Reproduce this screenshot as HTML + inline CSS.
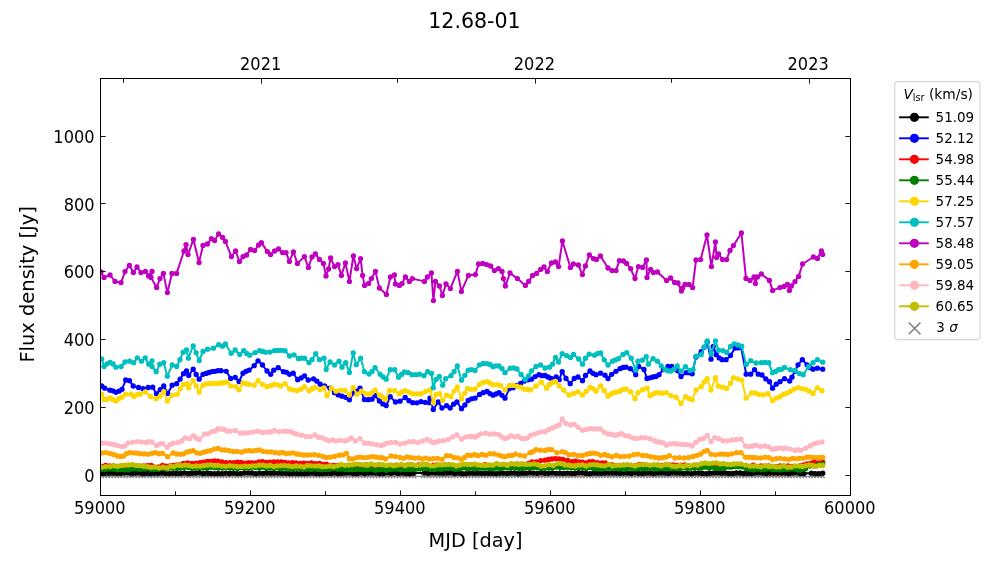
<!DOCTYPE html><html><head><meta charset="utf-8"><style>html,body{margin:0;padding:0;background:#fff}svg{display:block}</style></head><body><svg width="1000" height="562" viewBox="0 0 1000 562">
<rect width="1000" height="562" fill="#fff"/>
<defs><clipPath id="ax"><rect x="100.5" y="78.5" width="750.0" height="417.0"/></clipPath></defs>
<g clip-path="url(#ax)">
<path d="M99.7 474.0l4 4m0 -4l-4 4M102.7 474.0l4 4m0 -4l-4 4M105.7 474.0l4 4m0 -4l-4 4M108.7 474.0l4 4m0 -4l-4 4M111.7 474.0l4 4m0 -4l-4 4M114.7 474.0l4 4m0 -4l-4 4M117.7 474.0l4 4m0 -4l-4 4M120.7 474.0l4 4m0 -4l-4 4M123.7 474.0l4 4m0 -4l-4 4M126.7 474.0l4 4m0 -4l-4 4M129.7 474.0l4 4m0 -4l-4 4M132.7 474.0l4 4m0 -4l-4 4M135.8 474.0l4 4m0 -4l-4 4M138.8 474.0l4 4m0 -4l-4 4M141.8 474.0l4 4m0 -4l-4 4M144.8 474.0l4 4m0 -4l-4 4M147.8 474.0l4 4m0 -4l-4 4M150.8 474.0l4 4m0 -4l-4 4M153.8 474.0l4 4m0 -4l-4 4M156.8 474.0l4 4m0 -4l-4 4M159.8 474.0l4 4m0 -4l-4 4M162.8 474.0l4 4m0 -4l-4 4M165.8 474.0l4 4m0 -4l-4 4M168.8 474.0l4 4m0 -4l-4 4M171.8 474.0l4 4m0 -4l-4 4M174.8 474.0l4 4m0 -4l-4 4M177.8 474.0l4 4m0 -4l-4 4M180.8 474.0l4 4m0 -4l-4 4M183.8 474.0l4 4m0 -4l-4 4M186.8 474.0l4 4m0 -4l-4 4M189.8 474.0l4 4m0 -4l-4 4M192.8 474.0l4 4m0 -4l-4 4M195.8 474.0l4 4m0 -4l-4 4M198.8 474.0l4 4m0 -4l-4 4M201.8 474.0l4 4m0 -4l-4 4M204.8 474.0l4 4m0 -4l-4 4M207.8 474.0l4 4m0 -4l-4 4M210.9 474.0l4 4m0 -4l-4 4M213.9 474.0l4 4m0 -4l-4 4M216.9 474.0l4 4m0 -4l-4 4M219.9 474.0l4 4m0 -4l-4 4M222.9 474.0l4 4m0 -4l-4 4M225.9 474.0l4 4m0 -4l-4 4M228.9 474.0l4 4m0 -4l-4 4M231.9 474.0l4 4m0 -4l-4 4M234.9 474.0l4 4m0 -4l-4 4M237.9 474.0l4 4m0 -4l-4 4M240.9 474.0l4 4m0 -4l-4 4M243.9 474.0l4 4m0 -4l-4 4M246.9 474.0l4 4m0 -4l-4 4M249.9 474.0l4 4m0 -4l-4 4M252.9 474.0l4 4m0 -4l-4 4M255.9 474.0l4 4m0 -4l-4 4M258.9 474.0l4 4m0 -4l-4 4M261.9 474.0l4 4m0 -4l-4 4M264.9 474.0l4 4m0 -4l-4 4M267.9 474.0l4 4m0 -4l-4 4M270.9 474.0l4 4m0 -4l-4 4M273.9 474.0l4 4m0 -4l-4 4M276.9 474.0l4 4m0 -4l-4 4M279.9 474.0l4 4m0 -4l-4 4M283.0 474.0l4 4m0 -4l-4 4M286.0 474.0l4 4m0 -4l-4 4M289.0 474.0l4 4m0 -4l-4 4M292.0 474.0l4 4m0 -4l-4 4M295.0 474.0l4 4m0 -4l-4 4M298.0 474.0l4 4m0 -4l-4 4M301.0 474.0l4 4m0 -4l-4 4M304.0 474.0l4 4m0 -4l-4 4M307.0 474.0l4 4m0 -4l-4 4M310.0 474.0l4 4m0 -4l-4 4M313.0 474.0l4 4m0 -4l-4 4M316.0 474.0l4 4m0 -4l-4 4M319.0 474.0l4 4m0 -4l-4 4M322.0 474.0l4 4m0 -4l-4 4M325.0 474.0l4 4m0 -4l-4 4M328.0 474.0l4 4m0 -4l-4 4M331.0 474.0l4 4m0 -4l-4 4M334.0 474.0l4 4m0 -4l-4 4M337.0 474.0l4 4m0 -4l-4 4M340.0 474.0l4 4m0 -4l-4 4M343.0 474.0l4 4m0 -4l-4 4M346.0 474.0l4 4m0 -4l-4 4M349.0 474.0l4 4m0 -4l-4 4M352.1 474.0l4 4m0 -4l-4 4M355.1 474.0l4 4m0 -4l-4 4M358.1 474.0l4 4m0 -4l-4 4M361.1 474.0l4 4m0 -4l-4 4M364.1 474.0l4 4m0 -4l-4 4M367.1 474.0l4 4m0 -4l-4 4M370.1 474.0l4 4m0 -4l-4 4M373.1 474.0l4 4m0 -4l-4 4M376.1 474.0l4 4m0 -4l-4 4M379.1 474.0l4 4m0 -4l-4 4M382.1 474.0l4 4m0 -4l-4 4M385.1 474.0l4 4m0 -4l-4 4M388.1 474.0l4 4m0 -4l-4 4M391.1 474.0l4 4m0 -4l-4 4M394.1 474.0l4 4m0 -4l-4 4M397.1 474.0l4 4m0 -4l-4 4M400.1 474.0l4 4m0 -4l-4 4M403.1 474.0l4 4m0 -4l-4 4M406.1 474.0l4 4m0 -4l-4 4M409.1 474.0l4 4m0 -4l-4 4M412.1 474.0l4 4m0 -4l-4 4M421.1 474.0l4 4m0 -4l-4 4M424.1 474.0l4 4m0 -4l-4 4M427.2 474.0l4 4m0 -4l-4 4M430.2 474.0l4 4m0 -4l-4 4M433.2 474.0l4 4m0 -4l-4 4M436.2 474.0l4 4m0 -4l-4 4M439.2 474.0l4 4m0 -4l-4 4M442.2 474.0l4 4m0 -4l-4 4M445.2 474.0l4 4m0 -4l-4 4M448.2 474.0l4 4m0 -4l-4 4M451.2 474.0l4 4m0 -4l-4 4M454.2 474.0l4 4m0 -4l-4 4M457.2 474.0l4 4m0 -4l-4 4M460.2 474.0l4 4m0 -4l-4 4M463.2 474.0l4 4m0 -4l-4 4M466.2 474.0l4 4m0 -4l-4 4M469.2 474.0l4 4m0 -4l-4 4M472.2 474.0l4 4m0 -4l-4 4M475.2 474.0l4 4m0 -4l-4 4M478.2 474.0l4 4m0 -4l-4 4M481.2 474.0l4 4m0 -4l-4 4M484.2 474.0l4 4m0 -4l-4 4M487.2 474.0l4 4m0 -4l-4 4M490.2 474.0l4 4m0 -4l-4 4M493.2 474.0l4 4m0 -4l-4 4M496.2 474.0l4 4m0 -4l-4 4M499.3 474.0l4 4m0 -4l-4 4M502.3 474.0l4 4m0 -4l-4 4M505.3 474.0l4 4m0 -4l-4 4M508.3 474.0l4 4m0 -4l-4 4M511.3 474.0l4 4m0 -4l-4 4M514.3 474.0l4 4m0 -4l-4 4M517.3 474.0l4 4m0 -4l-4 4M520.3 474.0l4 4m0 -4l-4 4M523.3 474.0l4 4m0 -4l-4 4M526.3 474.0l4 4m0 -4l-4 4M529.3 474.0l4 4m0 -4l-4 4M532.3 474.0l4 4m0 -4l-4 4M535.3 474.0l4 4m0 -4l-4 4M538.3 474.0l4 4m0 -4l-4 4M541.3 474.0l4 4m0 -4l-4 4M544.3 474.0l4 4m0 -4l-4 4M547.3 474.0l4 4m0 -4l-4 4M550.3 474.0l4 4m0 -4l-4 4M553.3 474.0l4 4m0 -4l-4 4M556.3 474.0l4 4m0 -4l-4 4M559.3 474.0l4 4m0 -4l-4 4M562.3 474.0l4 4m0 -4l-4 4M565.3 474.0l4 4m0 -4l-4 4M568.4 474.0l4 4m0 -4l-4 4M571.4 474.0l4 4m0 -4l-4 4M574.4 474.0l4 4m0 -4l-4 4M577.4 474.0l4 4m0 -4l-4 4M580.4 474.0l4 4m0 -4l-4 4M583.4 474.0l4 4m0 -4l-4 4M586.4 474.0l4 4m0 -4l-4 4M589.4 474.0l4 4m0 -4l-4 4M592.4 474.0l4 4m0 -4l-4 4M595.4 474.0l4 4m0 -4l-4 4M598.4 474.0l4 4m0 -4l-4 4M601.4 474.0l4 4m0 -4l-4 4M604.4 474.0l4 4m0 -4l-4 4M607.4 474.0l4 4m0 -4l-4 4M610.4 474.0l4 4m0 -4l-4 4M613.4 474.0l4 4m0 -4l-4 4M616.4 474.0l4 4m0 -4l-4 4M619.4 474.0l4 4m0 -4l-4 4M622.4 474.0l4 4m0 -4l-4 4M625.4 474.0l4 4m0 -4l-4 4M628.4 474.0l4 4m0 -4l-4 4M631.4 474.0l4 4m0 -4l-4 4M634.4 474.0l4 4m0 -4l-4 4M637.4 474.0l4 4m0 -4l-4 4M640.5 474.0l4 4m0 -4l-4 4M643.5 474.0l4 4m0 -4l-4 4M646.5 474.0l4 4m0 -4l-4 4M649.5 474.0l4 4m0 -4l-4 4M652.5 474.0l4 4m0 -4l-4 4M655.5 474.0l4 4m0 -4l-4 4M658.5 474.0l4 4m0 -4l-4 4M661.5 474.0l4 4m0 -4l-4 4M664.5 474.0l4 4m0 -4l-4 4M667.5 474.0l4 4m0 -4l-4 4M670.5 474.0l4 4m0 -4l-4 4M673.5 474.0l4 4m0 -4l-4 4M676.5 474.0l4 4m0 -4l-4 4M679.5 474.0l4 4m0 -4l-4 4M682.5 474.0l4 4m0 -4l-4 4M685.5 474.0l4 4m0 -4l-4 4M688.5 474.0l4 4m0 -4l-4 4M691.5 474.0l4 4m0 -4l-4 4M694.5 474.0l4 4m0 -4l-4 4M697.5 474.0l4 4m0 -4l-4 4M700.5 474.0l4 4m0 -4l-4 4M703.5 474.0l4 4m0 -4l-4 4M706.5 474.0l4 4m0 -4l-4 4M709.5 474.0l4 4m0 -4l-4 4M712.6 474.0l4 4m0 -4l-4 4M715.6 474.0l4 4m0 -4l-4 4M718.6 474.0l4 4m0 -4l-4 4M721.6 474.0l4 4m0 -4l-4 4M724.6 474.0l4 4m0 -4l-4 4M727.6 474.0l4 4m0 -4l-4 4M730.6 474.0l4 4m0 -4l-4 4M733.6 474.0l4 4m0 -4l-4 4M736.6 474.0l4 4m0 -4l-4 4M739.6 474.0l4 4m0 -4l-4 4M742.6 474.0l4 4m0 -4l-4 4M745.6 474.0l4 4m0 -4l-4 4M748.6 474.0l4 4m0 -4l-4 4M751.6 474.0l4 4m0 -4l-4 4M754.6 474.0l4 4m0 -4l-4 4M757.6 474.0l4 4m0 -4l-4 4M760.6 474.0l4 4m0 -4l-4 4M763.6 474.0l4 4m0 -4l-4 4M766.6 474.0l4 4m0 -4l-4 4M769.6 474.0l4 4m0 -4l-4 4M772.6 474.0l4 4m0 -4l-4 4M775.6 474.0l4 4m0 -4l-4 4M778.6 474.0l4 4m0 -4l-4 4M781.6 474.0l4 4m0 -4l-4 4M784.6 474.0l4 4m0 -4l-4 4M787.7 474.0l4 4m0 -4l-4 4M790.7 474.0l4 4m0 -4l-4 4M793.7 474.0l4 4m0 -4l-4 4M796.7 474.0l4 4m0 -4l-4 4M799.7 474.0l4 4m0 -4l-4 4M802.7 474.0l4 4m0 -4l-4 4M808.7 474.0l4 4m0 -4l-4 4M811.7 474.0l4 4m0 -4l-4 4M814.7 474.0l4 4m0 -4l-4 4M817.7 474.0l4 4m0 -4l-4 4M820.7 474.0l4 4m0 -4l-4 4" stroke="#808080" stroke-width="1.1" fill="none"/>
<path d="M101 476.3H823" stroke="#8a8a8a" stroke-width="1.3"/>
<polyline points="101.7,473.2 105.5,472.9 109.2,473.2 113,473.1 116.7,473.3 120.5,473.3 124.2,472.8 128,472.7 131.7,473.5 135.5,473 139.3,472.9 143,473.7 146.8,473.2 150.5,473.5 154.3,473.2 158,473.3 161.8,472.9 165.5,473.3 169.3,473.6 173,473.2 176.8,473.4 180.6,473.4 184.3,472.8 188.1,473.5 191.8,473.3 195.6,473 199.3,472.7 203.1,473.6 206.8,473.2 210.6,473.4 214.4,473.6 218.1,473.4 221.9,473.6 225.6,473.1 229.4,473.5 233.1,473.1 236.9,473.6 240.6,473.6 244.4,472.8 248.2,472.8 251.9,472.9 255.7,473.7 259.4,473.1 263.2,473.3 266.9,473 270.7,473.2 274.4,473.1 278.2,473.1 281.9,473.3 285.7,473.3 289.5,473.6 293.2,473.4 297,473.6 300.7,473.6 304.5,473.7 308.2,473.4 312,472.9 315.7,473.6 319.5,473.7 323.3,473.6 327,473.3 330.8,473.4 334.5,472.9 338.3,473.5 342,473.3 345.8,473 349.5,472.8 353.3,473.6 357.1,473.7 360.8,472.8 364.6,473.5 368.3,473.1 372.1,472.9 375.8,473 379.6,473.5 383.3,473.6 387.1,472.7 390.9,473.3 394.6,472.7 398.4,473.4 402.1,473 405.9,473.6 409.6,473.7 413.4,473.2 424.6,472.8 428.4,473.3 432.2,472.7 435.9,472.9 439.7,473.1 443.4,473.3 447.2,472.9 450.9,472.7 454.7,473.6 458.4,473 462.2,473.7 466,473.6 469.7,473.1 473.5,473.2 477.2,473.2 481,473.3 484.7,473.3 488.5,473.3 492.2,473.3 496,473.6 499.8,473.2 503.5,473.1 507.3,473.4 511,472.9 514.8,473 518.5,473.7 522.3,473.2 526,473.2 529.8,472.7 533.5,473.1 537.3,473.3 541.1,472.7 544.8,473.3 548.6,473.3 552.3,472.8 556.1,473.3 559.8,473.2 563.6,473.4 567.3,473.1 571.1,473.4 574.9,473.4 578.6,472.7 582.4,472.8 586.1,473.4 589.9,473.7 593.6,473 597.4,473.2 601.1,473.3 604.9,473 608.7,473.1 612.4,473 616.2,473.1 619.9,473.3 623.7,473 627.4,473.1 631.2,473.5 634.9,472.7 638.7,473.3 642.5,473.4 646.2,473 650,472.9 653.7,473.5 657.5,472.9 661.2,472.9 665,473.1 668.7,473.4 672.5,472.8 676.2,473 680,473 683.8,473.5 687.5,473.1 691.3,473.6 695,472.9 698.8,473 702.5,473.4 706.3,473.6 710,473.2 713.8,472.9 717.6,472.8 721.3,473.2 725.1,472.9 728.8,473.5 732.6,473.5 736.3,472.9 740.1,473 743.8,473.5 747.6,473.3 751.4,473.5 755.1,473 758.9,472.8 762.6,473 766.4,473.5 770.1,473 773.9,473 777.6,473.1 781.4,473.1 785.1,473.1 788.9,473.6 792.7,472.9 796.4,472.7 800.2,473.6 803.9,473.6 811.4,473.1 815.2,473.7 818.9,473.6 822.7,473.2" fill="none" stroke="#000000" stroke-width="2" stroke-linejoin="round" stroke-linecap="square"/>
<g fill="#000000"><circle cx="101.7" cy="473.2" r="2.65"/><circle cx="105.5" cy="472.9" r="2.65"/><circle cx="109.2" cy="473.2" r="2.65"/><circle cx="113" cy="473.1" r="2.65"/><circle cx="116.7" cy="473.3" r="2.65"/><circle cx="120.5" cy="473.3" r="2.65"/><circle cx="124.2" cy="472.8" r="2.65"/><circle cx="128" cy="472.7" r="2.65"/><circle cx="131.7" cy="473.5" r="2.65"/><circle cx="135.5" cy="473" r="2.65"/><circle cx="139.3" cy="472.9" r="2.65"/><circle cx="143" cy="473.7" r="2.65"/><circle cx="146.8" cy="473.2" r="2.65"/><circle cx="150.5" cy="473.5" r="2.65"/><circle cx="154.3" cy="473.2" r="2.65"/><circle cx="158" cy="473.3" r="2.65"/><circle cx="161.8" cy="472.9" r="2.65"/><circle cx="165.5" cy="473.3" r="2.65"/><circle cx="169.3" cy="473.6" r="2.65"/><circle cx="173" cy="473.2" r="2.65"/><circle cx="176.8" cy="473.4" r="2.65"/><circle cx="180.6" cy="473.4" r="2.65"/><circle cx="184.3" cy="472.8" r="2.65"/><circle cx="188.1" cy="473.5" r="2.65"/><circle cx="191.8" cy="473.3" r="2.65"/><circle cx="195.6" cy="473" r="2.65"/><circle cx="199.3" cy="472.7" r="2.65"/><circle cx="203.1" cy="473.6" r="2.65"/><circle cx="206.8" cy="473.2" r="2.65"/><circle cx="210.6" cy="473.4" r="2.65"/><circle cx="214.4" cy="473.6" r="2.65"/><circle cx="218.1" cy="473.4" r="2.65"/><circle cx="221.9" cy="473.6" r="2.65"/><circle cx="225.6" cy="473.1" r="2.65"/><circle cx="229.4" cy="473.5" r="2.65"/><circle cx="233.1" cy="473.1" r="2.65"/><circle cx="236.9" cy="473.6" r="2.65"/><circle cx="240.6" cy="473.6" r="2.65"/><circle cx="244.4" cy="472.8" r="2.65"/><circle cx="248.2" cy="472.8" r="2.65"/><circle cx="251.9" cy="472.9" r="2.65"/><circle cx="255.7" cy="473.7" r="2.65"/><circle cx="259.4" cy="473.1" r="2.65"/><circle cx="263.2" cy="473.3" r="2.65"/><circle cx="266.9" cy="473" r="2.65"/><circle cx="270.7" cy="473.2" r="2.65"/><circle cx="274.4" cy="473.1" r="2.65"/><circle cx="278.2" cy="473.1" r="2.65"/><circle cx="281.9" cy="473.3" r="2.65"/><circle cx="285.7" cy="473.3" r="2.65"/><circle cx="289.5" cy="473.6" r="2.65"/><circle cx="293.2" cy="473.4" r="2.65"/><circle cx="297" cy="473.6" r="2.65"/><circle cx="300.7" cy="473.6" r="2.65"/><circle cx="304.5" cy="473.7" r="2.65"/><circle cx="308.2" cy="473.4" r="2.65"/><circle cx="312" cy="472.9" r="2.65"/><circle cx="315.7" cy="473.6" r="2.65"/><circle cx="319.5" cy="473.7" r="2.65"/><circle cx="323.3" cy="473.6" r="2.65"/><circle cx="327" cy="473.3" r="2.65"/><circle cx="330.8" cy="473.4" r="2.65"/><circle cx="334.5" cy="472.9" r="2.65"/><circle cx="338.3" cy="473.5" r="2.65"/><circle cx="342" cy="473.3" r="2.65"/><circle cx="345.8" cy="473" r="2.65"/><circle cx="349.5" cy="472.8" r="2.65"/><circle cx="353.3" cy="473.6" r="2.65"/><circle cx="357.1" cy="473.7" r="2.65"/><circle cx="360.8" cy="472.8" r="2.65"/><circle cx="364.6" cy="473.5" r="2.65"/><circle cx="368.3" cy="473.1" r="2.65"/><circle cx="372.1" cy="472.9" r="2.65"/><circle cx="375.8" cy="473" r="2.65"/><circle cx="379.6" cy="473.5" r="2.65"/><circle cx="383.3" cy="473.6" r="2.65"/><circle cx="387.1" cy="472.7" r="2.65"/><circle cx="390.9" cy="473.3" r="2.65"/><circle cx="394.6" cy="472.7" r="2.65"/><circle cx="398.4" cy="473.4" r="2.65"/><circle cx="402.1" cy="473" r="2.65"/><circle cx="405.9" cy="473.6" r="2.65"/><circle cx="409.6" cy="473.7" r="2.65"/><circle cx="413.4" cy="473.2" r="2.65"/><circle cx="424.6" cy="472.8" r="2.65"/><circle cx="428.4" cy="473.3" r="2.65"/><circle cx="432.2" cy="472.7" r="2.65"/><circle cx="435.9" cy="472.9" r="2.65"/><circle cx="439.7" cy="473.1" r="2.65"/><circle cx="443.4" cy="473.3" r="2.65"/><circle cx="447.2" cy="472.9" r="2.65"/><circle cx="450.9" cy="472.7" r="2.65"/><circle cx="454.7" cy="473.6" r="2.65"/><circle cx="458.4" cy="473" r="2.65"/><circle cx="462.2" cy="473.7" r="2.65"/><circle cx="466" cy="473.6" r="2.65"/><circle cx="469.7" cy="473.1" r="2.65"/><circle cx="473.5" cy="473.2" r="2.65"/><circle cx="477.2" cy="473.2" r="2.65"/><circle cx="481" cy="473.3" r="2.65"/><circle cx="484.7" cy="473.3" r="2.65"/><circle cx="488.5" cy="473.3" r="2.65"/><circle cx="492.2" cy="473.3" r="2.65"/><circle cx="496" cy="473.6" r="2.65"/><circle cx="499.8" cy="473.2" r="2.65"/><circle cx="503.5" cy="473.1" r="2.65"/><circle cx="507.3" cy="473.4" r="2.65"/><circle cx="511" cy="472.9" r="2.65"/><circle cx="514.8" cy="473" r="2.65"/><circle cx="518.5" cy="473.7" r="2.65"/><circle cx="522.3" cy="473.2" r="2.65"/><circle cx="526" cy="473.2" r="2.65"/><circle cx="529.8" cy="472.7" r="2.65"/><circle cx="533.5" cy="473.1" r="2.65"/><circle cx="537.3" cy="473.3" r="2.65"/><circle cx="541.1" cy="472.7" r="2.65"/><circle cx="544.8" cy="473.3" r="2.65"/><circle cx="548.6" cy="473.3" r="2.65"/><circle cx="552.3" cy="472.8" r="2.65"/><circle cx="556.1" cy="473.3" r="2.65"/><circle cx="559.8" cy="473.2" r="2.65"/><circle cx="563.6" cy="473.4" r="2.65"/><circle cx="567.3" cy="473.1" r="2.65"/><circle cx="571.1" cy="473.4" r="2.65"/><circle cx="574.9" cy="473.4" r="2.65"/><circle cx="578.6" cy="472.7" r="2.65"/><circle cx="582.4" cy="472.8" r="2.65"/><circle cx="586.1" cy="473.4" r="2.65"/><circle cx="589.9" cy="473.7" r="2.65"/><circle cx="593.6" cy="473" r="2.65"/><circle cx="597.4" cy="473.2" r="2.65"/><circle cx="601.1" cy="473.3" r="2.65"/><circle cx="604.9" cy="473" r="2.65"/><circle cx="608.7" cy="473.1" r="2.65"/><circle cx="612.4" cy="473" r="2.65"/><circle cx="616.2" cy="473.1" r="2.65"/><circle cx="619.9" cy="473.3" r="2.65"/><circle cx="623.7" cy="473" r="2.65"/><circle cx="627.4" cy="473.1" r="2.65"/><circle cx="631.2" cy="473.5" r="2.65"/><circle cx="634.9" cy="472.7" r="2.65"/><circle cx="638.7" cy="473.3" r="2.65"/><circle cx="642.5" cy="473.4" r="2.65"/><circle cx="646.2" cy="473" r="2.65"/><circle cx="650" cy="472.9" r="2.65"/><circle cx="653.7" cy="473.5" r="2.65"/><circle cx="657.5" cy="472.9" r="2.65"/><circle cx="661.2" cy="472.9" r="2.65"/><circle cx="665" cy="473.1" r="2.65"/><circle cx="668.7" cy="473.4" r="2.65"/><circle cx="672.5" cy="472.8" r="2.65"/><circle cx="676.2" cy="473" r="2.65"/><circle cx="680" cy="473" r="2.65"/><circle cx="683.8" cy="473.5" r="2.65"/><circle cx="687.5" cy="473.1" r="2.65"/><circle cx="691.3" cy="473.6" r="2.65"/><circle cx="695" cy="472.9" r="2.65"/><circle cx="698.8" cy="473" r="2.65"/><circle cx="702.5" cy="473.4" r="2.65"/><circle cx="706.3" cy="473.6" r="2.65"/><circle cx="710" cy="473.2" r="2.65"/><circle cx="713.8" cy="472.9" r="2.65"/><circle cx="717.6" cy="472.8" r="2.65"/><circle cx="721.3" cy="473.2" r="2.65"/><circle cx="725.1" cy="472.9" r="2.65"/><circle cx="728.8" cy="473.5" r="2.65"/><circle cx="732.6" cy="473.5" r="2.65"/><circle cx="736.3" cy="472.9" r="2.65"/><circle cx="740.1" cy="473" r="2.65"/><circle cx="743.8" cy="473.5" r="2.65"/><circle cx="747.6" cy="473.3" r="2.65"/><circle cx="751.4" cy="473.5" r="2.65"/><circle cx="755.1" cy="473" r="2.65"/><circle cx="758.9" cy="472.8" r="2.65"/><circle cx="762.6" cy="473" r="2.65"/><circle cx="766.4" cy="473.5" r="2.65"/><circle cx="770.1" cy="473" r="2.65"/><circle cx="773.9" cy="473" r="2.65"/><circle cx="777.6" cy="473.1" r="2.65"/><circle cx="781.4" cy="473.1" r="2.65"/><circle cx="785.1" cy="473.1" r="2.65"/><circle cx="788.9" cy="473.6" r="2.65"/><circle cx="792.7" cy="472.9" r="2.65"/><circle cx="796.4" cy="472.7" r="2.65"/><circle cx="800.2" cy="473.6" r="2.65"/><circle cx="803.9" cy="473.6" r="2.65"/><circle cx="811.4" cy="473.1" r="2.65"/><circle cx="815.2" cy="473.7" r="2.65"/><circle cx="818.9" cy="473.6" r="2.65"/><circle cx="822.7" cy="473.2" r="2.65"/></g>
<polyline points="101.7,386 104.7,388.2 110,390.2 113,390.8 116,392.3 119,391.2 122,389.3 125.7,380 129.5,380.7 133.2,386 138.5,387.5 143,388.7 148.2,387.5 152.7,387.2 156.5,393.8 160.2,389.7 163.7,386 167.7,393.5 172.2,385.2 176.7,383.7 180.1,379.2 183.5,373.7 186.5,371 188.7,375.5 193.2,369.2 196.2,374.5 199.2,379.2 203,374.3 206,373.4 209,372.5 212,371.6 215,371.3 218,370.7 221,370.7 226.2,371.3 230.7,378.5 235.2,377.3 239,381.5 243,373.2 246,371.3 249,370.2 254.2,365.7 258,360.8 262.5,365 267,371 270.7,374.3 273.7,370.2 278.2,367.7 283.5,371.7 286.5,372.3 289.5,374.3 293.2,373.2 297.7,379.7 301.1,377.9 304.5,375.8 308.2,380 313.5,378.8 316.9,381.2 320.2,384.2 324.7,386 330,388.2 334.5,392.7 338.2,394.9 342,396.2 345.7,397.3 349.4,399.8 354,392.7 357,391.1 360,388.2 364.4,399.5 368.2,399.7 372,399.2 375,395.7 379.4,401 382.8,403.9 386.2,405.5 390.2,396.7 395.5,402 400,401.2 405.2,397.5 408.9,400.7 412.7,402.7 416.9,402.8 421,401.7 425.1,402.3 429.2,402.7 430,398.2 433.3,409.5 438.2,402 442,408 446.5,405.7 450.2,408 453.6,404.2 457,402 461.5,408.7 464.9,405 468.2,400.5 471.6,398.8 475,398.2 479.5,394.5 483.2,392.7 487,391.5 490,393.6 493,395.2 496,394 499,392.7 502,395.3 505,398.2 509.5,388.5 513.2,387.7 517,385.5 520.7,383.4 524.4,381 528,379.8 531.5,379.2 535.2,376.6 539,374.7 542,375.7 545,375.5 548,377 551,378.5 556.2,377 559.2,379.7 562.2,371.7 566,378.5 570.2,383.7 574.2,378.5 578,377 582.5,380.7 585.5,375.5 590,371 593,373.3 596,374.7 600.5,373.2 605,375.2 608,378.5 611.7,374.3 615.9,371.3 620,368.7 623,367.5 626,367.2 630.4,368.7 635.7,374.7 638.7,366.5 644,369.5 647,378.5 650,377.8 653,377 656,376.4 659,374.7 663.4,369.5 668,366.5 671.7,366.5 677.2,370.5 681,376.5 686.2,372.7 689.2,372.7 692.2,373.8 696,357 701.2,351.7 704.2,347.3 707.2,342 711,359.2 713.2,346.5 716.2,354.7 719.2,357.9 722.2,359.7 726,359.7 730.5,355.5 735,348 738,347.9 741,346.8 746.2,374.2 750.7,374.2 754.5,369.7 758.2,374.2 762,375 765.8,378.9 769.5,381.7 772.5,388.2 776.2,384.2 780,381.7 784.5,378.7 789.7,381 792,377.2 795,371.2 798,364.8 802.4,359.7 807,364.8 810,367.6 813,369.2 817.4,368.2 822.7,369.2" fill="none" stroke="#0000ff" stroke-width="2" stroke-linejoin="round" stroke-linecap="square"/>
<g fill="#0000ff"><circle cx="101.7" cy="386" r="2.65"/><circle cx="104.7" cy="388.2" r="2.65"/><circle cx="110" cy="390.2" r="2.65"/><circle cx="113" cy="390.8" r="2.65"/><circle cx="116" cy="392.3" r="2.65"/><circle cx="119" cy="391.2" r="2.65"/><circle cx="122" cy="389.3" r="2.65"/><circle cx="125.7" cy="380" r="2.65"/><circle cx="129.5" cy="380.7" r="2.65"/><circle cx="133.2" cy="386" r="2.65"/><circle cx="138.5" cy="387.5" r="2.65"/><circle cx="143" cy="388.7" r="2.65"/><circle cx="148.2" cy="387.5" r="2.65"/><circle cx="152.7" cy="387.2" r="2.65"/><circle cx="156.5" cy="393.8" r="2.65"/><circle cx="160.2" cy="389.7" r="2.65"/><circle cx="163.7" cy="386" r="2.65"/><circle cx="167.7" cy="393.5" r="2.65"/><circle cx="172.2" cy="385.2" r="2.65"/><circle cx="176.7" cy="383.7" r="2.65"/><circle cx="180.1" cy="379.2" r="2.65"/><circle cx="183.5" cy="373.7" r="2.65"/><circle cx="186.5" cy="371" r="2.65"/><circle cx="188.7" cy="375.5" r="2.65"/><circle cx="193.2" cy="369.2" r="2.65"/><circle cx="196.2" cy="374.5" r="2.65"/><circle cx="199.2" cy="379.2" r="2.65"/><circle cx="203" cy="374.3" r="2.65"/><circle cx="206" cy="373.4" r="2.65"/><circle cx="209" cy="372.5" r="2.65"/><circle cx="212" cy="371.6" r="2.65"/><circle cx="215" cy="371.3" r="2.65"/><circle cx="218" cy="370.7" r="2.65"/><circle cx="221" cy="370.7" r="2.65"/><circle cx="226.2" cy="371.3" r="2.65"/><circle cx="230.7" cy="378.5" r="2.65"/><circle cx="235.2" cy="377.3" r="2.65"/><circle cx="239" cy="381.5" r="2.65"/><circle cx="243" cy="373.2" r="2.65"/><circle cx="246" cy="371.3" r="2.65"/><circle cx="249" cy="370.2" r="2.65"/><circle cx="254.2" cy="365.7" r="2.65"/><circle cx="258" cy="360.8" r="2.65"/><circle cx="262.5" cy="365" r="2.65"/><circle cx="267" cy="371" r="2.65"/><circle cx="270.7" cy="374.3" r="2.65"/><circle cx="273.7" cy="370.2" r="2.65"/><circle cx="278.2" cy="367.7" r="2.65"/><circle cx="283.5" cy="371.7" r="2.65"/><circle cx="286.5" cy="372.3" r="2.65"/><circle cx="289.5" cy="374.3" r="2.65"/><circle cx="293.2" cy="373.2" r="2.65"/><circle cx="297.7" cy="379.7" r="2.65"/><circle cx="301.1" cy="377.9" r="2.65"/><circle cx="304.5" cy="375.8" r="2.65"/><circle cx="308.2" cy="380" r="2.65"/><circle cx="313.5" cy="378.8" r="2.65"/><circle cx="316.9" cy="381.2" r="2.65"/><circle cx="320.2" cy="384.2" r="2.65"/><circle cx="324.7" cy="386" r="2.65"/><circle cx="330" cy="388.2" r="2.65"/><circle cx="334.5" cy="392.7" r="2.65"/><circle cx="338.2" cy="394.9" r="2.65"/><circle cx="342" cy="396.2" r="2.65"/><circle cx="345.7" cy="397.3" r="2.65"/><circle cx="349.4" cy="399.8" r="2.65"/><circle cx="354" cy="392.7" r="2.65"/><circle cx="357" cy="391.1" r="2.65"/><circle cx="360" cy="388.2" r="2.65"/><circle cx="364.4" cy="399.5" r="2.65"/><circle cx="368.2" cy="399.7" r="2.65"/><circle cx="372" cy="399.2" r="2.65"/><circle cx="375" cy="395.7" r="2.65"/><circle cx="379.4" cy="401" r="2.65"/><circle cx="382.8" cy="403.9" r="2.65"/><circle cx="386.2" cy="405.5" r="2.65"/><circle cx="390.2" cy="396.7" r="2.65"/><circle cx="395.5" cy="402" r="2.65"/><circle cx="400" cy="401.2" r="2.65"/><circle cx="405.2" cy="397.5" r="2.65"/><circle cx="408.9" cy="400.7" r="2.65"/><circle cx="412.7" cy="402.7" r="2.65"/><circle cx="416.9" cy="402.8" r="2.65"/><circle cx="421" cy="401.7" r="2.65"/><circle cx="425.1" cy="402.3" r="2.65"/><circle cx="429.2" cy="402.7" r="2.65"/><circle cx="430" cy="398.2" r="2.65"/><circle cx="433.3" cy="409.5" r="2.65"/><circle cx="438.2" cy="402" r="2.65"/><circle cx="442" cy="408" r="2.65"/><circle cx="446.5" cy="405.7" r="2.65"/><circle cx="450.2" cy="408" r="2.65"/><circle cx="453.6" cy="404.2" r="2.65"/><circle cx="457" cy="402" r="2.65"/><circle cx="461.5" cy="408.7" r="2.65"/><circle cx="464.9" cy="405" r="2.65"/><circle cx="468.2" cy="400.5" r="2.65"/><circle cx="471.6" cy="398.8" r="2.65"/><circle cx="475" cy="398.2" r="2.65"/><circle cx="479.5" cy="394.5" r="2.65"/><circle cx="483.2" cy="392.7" r="2.65"/><circle cx="487" cy="391.5" r="2.65"/><circle cx="490" cy="393.6" r="2.65"/><circle cx="493" cy="395.2" r="2.65"/><circle cx="496" cy="394" r="2.65"/><circle cx="499" cy="392.7" r="2.65"/><circle cx="502" cy="395.3" r="2.65"/><circle cx="505" cy="398.2" r="2.65"/><circle cx="509.5" cy="388.5" r="2.65"/><circle cx="513.2" cy="387.7" r="2.65"/><circle cx="517" cy="385.5" r="2.65"/><circle cx="520.7" cy="383.4" r="2.65"/><circle cx="524.4" cy="381" r="2.65"/><circle cx="528" cy="379.8" r="2.65"/><circle cx="531.5" cy="379.2" r="2.65"/><circle cx="535.2" cy="376.6" r="2.65"/><circle cx="539" cy="374.7" r="2.65"/><circle cx="542" cy="375.7" r="2.65"/><circle cx="545" cy="375.5" r="2.65"/><circle cx="548" cy="377" r="2.65"/><circle cx="551" cy="378.5" r="2.65"/><circle cx="556.2" cy="377" r="2.65"/><circle cx="559.2" cy="379.7" r="2.65"/><circle cx="562.2" cy="371.7" r="2.65"/><circle cx="566" cy="378.5" r="2.65"/><circle cx="570.2" cy="383.7" r="2.65"/><circle cx="574.2" cy="378.5" r="2.65"/><circle cx="578" cy="377" r="2.65"/><circle cx="582.5" cy="380.7" r="2.65"/><circle cx="585.5" cy="375.5" r="2.65"/><circle cx="590" cy="371" r="2.65"/><circle cx="593" cy="373.3" r="2.65"/><circle cx="596" cy="374.7" r="2.65"/><circle cx="600.5" cy="373.2" r="2.65"/><circle cx="605" cy="375.2" r="2.65"/><circle cx="608" cy="378.5" r="2.65"/><circle cx="611.7" cy="374.3" r="2.65"/><circle cx="615.9" cy="371.3" r="2.65"/><circle cx="620" cy="368.7" r="2.65"/><circle cx="623" cy="367.5" r="2.65"/><circle cx="626" cy="367.2" r="2.65"/><circle cx="630.4" cy="368.7" r="2.65"/><circle cx="635.7" cy="374.7" r="2.65"/><circle cx="638.7" cy="366.5" r="2.65"/><circle cx="644" cy="369.5" r="2.65"/><circle cx="647" cy="378.5" r="2.65"/><circle cx="650" cy="377.8" r="2.65"/><circle cx="653" cy="377" r="2.65"/><circle cx="656" cy="376.4" r="2.65"/><circle cx="659" cy="374.7" r="2.65"/><circle cx="663.4" cy="369.5" r="2.65"/><circle cx="668" cy="366.5" r="2.65"/><circle cx="671.7" cy="366.5" r="2.65"/><circle cx="677.2" cy="370.5" r="2.65"/><circle cx="681" cy="376.5" r="2.65"/><circle cx="686.2" cy="372.7" r="2.65"/><circle cx="689.2" cy="372.7" r="2.65"/><circle cx="692.2" cy="373.8" r="2.65"/><circle cx="696" cy="357" r="2.65"/><circle cx="701.2" cy="351.7" r="2.65"/><circle cx="704.2" cy="347.3" r="2.65"/><circle cx="707.2" cy="342" r="2.65"/><circle cx="711" cy="359.2" r="2.65"/><circle cx="713.2" cy="346.5" r="2.65"/><circle cx="716.2" cy="354.7" r="2.65"/><circle cx="719.2" cy="357.9" r="2.65"/><circle cx="722.2" cy="359.7" r="2.65"/><circle cx="726" cy="359.7" r="2.65"/><circle cx="730.5" cy="355.5" r="2.65"/><circle cx="735" cy="348" r="2.65"/><circle cx="738" cy="347.9" r="2.65"/><circle cx="741" cy="346.8" r="2.65"/><circle cx="746.2" cy="374.2" r="2.65"/><circle cx="750.7" cy="374.2" r="2.65"/><circle cx="754.5" cy="369.7" r="2.65"/><circle cx="758.2" cy="374.2" r="2.65"/><circle cx="762" cy="375" r="2.65"/><circle cx="765.8" cy="378.9" r="2.65"/><circle cx="769.5" cy="381.7" r="2.65"/><circle cx="772.5" cy="388.2" r="2.65"/><circle cx="776.2" cy="384.2" r="2.65"/><circle cx="780" cy="381.7" r="2.65"/><circle cx="784.5" cy="378.7" r="2.65"/><circle cx="789.7" cy="381" r="2.65"/><circle cx="792" cy="377.2" r="2.65"/><circle cx="795" cy="371.2" r="2.65"/><circle cx="798" cy="364.8" r="2.65"/><circle cx="802.4" cy="359.7" r="2.65"/><circle cx="807" cy="364.8" r="2.65"/><circle cx="810" cy="367.6" r="2.65"/><circle cx="813" cy="369.2" r="2.65"/><circle cx="817.4" cy="368.2" r="2.65"/><circle cx="822.7" cy="369.2" r="2.65"/></g>
<polyline points="101.7,466.3 105.5,465.5 109.4,465.9 113.2,465.9 117,466.4 120.8,466.3 124.7,466.4 128.5,466.9 132.3,465.6 136.2,465.7 140,466.5 143.8,465.8 147.5,465.7 151.2,465.5 155,467.1 158.8,466.8 162.5,465.4 166.2,466.1 170,466 173.3,465.3 176.7,465 180,465 183.5,463.5 187.6,463 191.8,463.4 195.9,463.1 200,462.7 203.6,462.1 207.2,461.5 210.8,461.5 214.4,460.8 218,461.2 222,461.8 226,462.6 230,462.7 233.8,462.6 237.5,462.2 241.2,462.5 245,463.2 248.5,462.7 252,462.8 255.5,462.8 259,461.8 262.5,461.7 266.2,462.3 270,462.1 273.8,461.8 277.5,462 281.2,461.9 285,462.3 288.8,462.9 292.5,462.7 296.2,462.8 300,463.4 303.8,463.2 307.5,463.5 311.5,463 315.5,463.6 319.5,463.5 323,464.5 326.5,464.1 330,465.5 333.7,465.4 337.4,465.4 341.1,466.2 344.7,466.3 348.4,465.4 352.1,466.3 355.8,466.1 359.5,465.2 363.2,465.6 366.8,465 370.5,466.2 374.2,466 377.9,466.4 381.6,466.2 385.3,466 388.9,466.2 392.6,465.9 396.3,465.1 400,465.8 403.7,465.9 407.4,464.9 411.1,465.1 414.8,466.2 418.5,464.9 422.2,465 425.9,464.9 429.6,466.3 433.3,465.1 437,464.8 440.7,466.2 444.4,464.9 448.1,466.2 451.9,465.9 455.6,466.1 459.3,466.3 463,465.6 466.7,466 470.4,464.6 474.1,465.9 477.8,465.4 481.5,465.8 485.2,464.7 488.9,465.8 492.6,466.1 496.3,464.5 500,465.3 503.6,464.9 507.1,465.2 510.7,465.5 514.3,464.4 517.9,464.2 521.4,464.2 525,464.5 528.5,463.5 532,462 536.3,461.9 540.7,460.6 545,460.2 548.5,459.5 552,459 555.5,458.7 559.2,458.8 563,459.5 567.5,460.5 572,461.7 575.5,461.1 579,462 582.5,462.2 586,462.9 589.5,461.7 593,461.7 597.5,462.7 602,462.8 605.3,462.9 608.7,464.6 612,465 615.8,465.5 619.7,465.4 623.5,465.1 627.3,465.1 631.1,465.4 635,465.8 638.8,464.5 642.6,464.4 646.4,465.6 650.3,466 654.1,465.3 657.9,465.2 661.7,465.7 665.6,464.7 669.4,464.9 673.2,464.8 677,465.5 680.9,465.1 684.7,464.9 688.5,465.8 692.3,466.3 696.2,465.1 700,465.5 703.8,465.9 707.6,465.4 711.4,466.2 715.2,465.7 719,465.2 722.9,465.1 726.7,464.8 730.5,465.7 734.3,465.5 738.1,465.1 741.9,465.5 745.7,465.5 749.5,466.3 753.3,465.2 757.1,466.7 761,465.8 764.8,466.1 768.6,465.9 772.4,466.6 776.2,466.6 780,466 784,466.1 788,466 792,466.4 796,466.6 800,466 803.5,464.8 807,464 810.5,463.4 814,462 818.4,462.8 822.7,462" fill="none" stroke="#ff0000" stroke-width="2" stroke-linejoin="round" stroke-linecap="square"/>
<g fill="#ff0000"><circle cx="101.7" cy="466.3" r="2.65"/><circle cx="105.5" cy="465.5" r="2.65"/><circle cx="109.4" cy="465.9" r="2.65"/><circle cx="113.2" cy="465.9" r="2.65"/><circle cx="117" cy="466.4" r="2.65"/><circle cx="120.8" cy="466.3" r="2.65"/><circle cx="124.7" cy="466.4" r="2.65"/><circle cx="128.5" cy="466.9" r="2.65"/><circle cx="132.3" cy="465.6" r="2.65"/><circle cx="136.2" cy="465.7" r="2.65"/><circle cx="140" cy="466.5" r="2.65"/><circle cx="143.8" cy="465.8" r="2.65"/><circle cx="147.5" cy="465.7" r="2.65"/><circle cx="151.2" cy="465.5" r="2.65"/><circle cx="155" cy="467.1" r="2.65"/><circle cx="158.8" cy="466.8" r="2.65"/><circle cx="162.5" cy="465.4" r="2.65"/><circle cx="166.2" cy="466.1" r="2.65"/><circle cx="170" cy="466" r="2.65"/><circle cx="173.3" cy="465.3" r="2.65"/><circle cx="176.7" cy="465" r="2.65"/><circle cx="180" cy="465" r="2.65"/><circle cx="183.5" cy="463.5" r="2.65"/><circle cx="187.6" cy="463" r="2.65"/><circle cx="191.8" cy="463.4" r="2.65"/><circle cx="195.9" cy="463.1" r="2.65"/><circle cx="200" cy="462.7" r="2.65"/><circle cx="203.6" cy="462.1" r="2.65"/><circle cx="207.2" cy="461.5" r="2.65"/><circle cx="210.8" cy="461.5" r="2.65"/><circle cx="214.4" cy="460.8" r="2.65"/><circle cx="218" cy="461.2" r="2.65"/><circle cx="222" cy="461.8" r="2.65"/><circle cx="226" cy="462.6" r="2.65"/><circle cx="230" cy="462.7" r="2.65"/><circle cx="233.8" cy="462.6" r="2.65"/><circle cx="237.5" cy="462.2" r="2.65"/><circle cx="241.2" cy="462.5" r="2.65"/><circle cx="245" cy="463.2" r="2.65"/><circle cx="248.5" cy="462.7" r="2.65"/><circle cx="252" cy="462.8" r="2.65"/><circle cx="255.5" cy="462.8" r="2.65"/><circle cx="259" cy="461.8" r="2.65"/><circle cx="262.5" cy="461.7" r="2.65"/><circle cx="266.2" cy="462.3" r="2.65"/><circle cx="270" cy="462.1" r="2.65"/><circle cx="273.8" cy="461.8" r="2.65"/><circle cx="277.5" cy="462" r="2.65"/><circle cx="281.2" cy="461.9" r="2.65"/><circle cx="285" cy="462.3" r="2.65"/><circle cx="288.8" cy="462.9" r="2.65"/><circle cx="292.5" cy="462.7" r="2.65"/><circle cx="296.2" cy="462.8" r="2.65"/><circle cx="300" cy="463.4" r="2.65"/><circle cx="303.8" cy="463.2" r="2.65"/><circle cx="307.5" cy="463.5" r="2.65"/><circle cx="311.5" cy="463" r="2.65"/><circle cx="315.5" cy="463.6" r="2.65"/><circle cx="319.5" cy="463.5" r="2.65"/><circle cx="323" cy="464.5" r="2.65"/><circle cx="326.5" cy="464.1" r="2.65"/><circle cx="330" cy="465.5" r="2.65"/><circle cx="333.7" cy="465.4" r="2.65"/><circle cx="337.4" cy="465.4" r="2.65"/><circle cx="341.1" cy="466.2" r="2.65"/><circle cx="344.7" cy="466.3" r="2.65"/><circle cx="348.4" cy="465.4" r="2.65"/><circle cx="352.1" cy="466.3" r="2.65"/><circle cx="355.8" cy="466.1" r="2.65"/><circle cx="359.5" cy="465.2" r="2.65"/><circle cx="363.2" cy="465.6" r="2.65"/><circle cx="366.8" cy="465" r="2.65"/><circle cx="370.5" cy="466.2" r="2.65"/><circle cx="374.2" cy="466" r="2.65"/><circle cx="377.9" cy="466.4" r="2.65"/><circle cx="381.6" cy="466.2" r="2.65"/><circle cx="385.3" cy="466" r="2.65"/><circle cx="388.9" cy="466.2" r="2.65"/><circle cx="392.6" cy="465.9" r="2.65"/><circle cx="396.3" cy="465.1" r="2.65"/><circle cx="400" cy="465.8" r="2.65"/><circle cx="403.7" cy="465.9" r="2.65"/><circle cx="407.4" cy="464.9" r="2.65"/><circle cx="411.1" cy="465.1" r="2.65"/><circle cx="414.8" cy="466.2" r="2.65"/><circle cx="418.5" cy="464.9" r="2.65"/><circle cx="422.2" cy="465" r="2.65"/><circle cx="425.9" cy="464.9" r="2.65"/><circle cx="429.6" cy="466.3" r="2.65"/><circle cx="433.3" cy="465.1" r="2.65"/><circle cx="437" cy="464.8" r="2.65"/><circle cx="440.7" cy="466.2" r="2.65"/><circle cx="444.4" cy="464.9" r="2.65"/><circle cx="448.1" cy="466.2" r="2.65"/><circle cx="451.9" cy="465.9" r="2.65"/><circle cx="455.6" cy="466.1" r="2.65"/><circle cx="459.3" cy="466.3" r="2.65"/><circle cx="463" cy="465.6" r="2.65"/><circle cx="466.7" cy="466" r="2.65"/><circle cx="470.4" cy="464.6" r="2.65"/><circle cx="474.1" cy="465.9" r="2.65"/><circle cx="477.8" cy="465.4" r="2.65"/><circle cx="481.5" cy="465.8" r="2.65"/><circle cx="485.2" cy="464.7" r="2.65"/><circle cx="488.9" cy="465.8" r="2.65"/><circle cx="492.6" cy="466.1" r="2.65"/><circle cx="496.3" cy="464.5" r="2.65"/><circle cx="500" cy="465.3" r="2.65"/><circle cx="503.6" cy="464.9" r="2.65"/><circle cx="507.1" cy="465.2" r="2.65"/><circle cx="510.7" cy="465.5" r="2.65"/><circle cx="514.3" cy="464.4" r="2.65"/><circle cx="517.9" cy="464.2" r="2.65"/><circle cx="521.4" cy="464.2" r="2.65"/><circle cx="525" cy="464.5" r="2.65"/><circle cx="528.5" cy="463.5" r="2.65"/><circle cx="532" cy="462" r="2.65"/><circle cx="536.3" cy="461.9" r="2.65"/><circle cx="540.7" cy="460.6" r="2.65"/><circle cx="545" cy="460.2" r="2.65"/><circle cx="548.5" cy="459.5" r="2.65"/><circle cx="552" cy="459" r="2.65"/><circle cx="555.5" cy="458.7" r="2.65"/><circle cx="559.2" cy="458.8" r="2.65"/><circle cx="563" cy="459.5" r="2.65"/><circle cx="567.5" cy="460.5" r="2.65"/><circle cx="572" cy="461.7" r="2.65"/><circle cx="575.5" cy="461.1" r="2.65"/><circle cx="579" cy="462" r="2.65"/><circle cx="582.5" cy="462.2" r="2.65"/><circle cx="586" cy="462.9" r="2.65"/><circle cx="589.5" cy="461.7" r="2.65"/><circle cx="593" cy="461.7" r="2.65"/><circle cx="597.5" cy="462.7" r="2.65"/><circle cx="602" cy="462.8" r="2.65"/><circle cx="605.3" cy="462.9" r="2.65"/><circle cx="608.7" cy="464.6" r="2.65"/><circle cx="612" cy="465" r="2.65"/><circle cx="615.8" cy="465.5" r="2.65"/><circle cx="619.7" cy="465.4" r="2.65"/><circle cx="623.5" cy="465.1" r="2.65"/><circle cx="627.3" cy="465.1" r="2.65"/><circle cx="631.1" cy="465.4" r="2.65"/><circle cx="635" cy="465.8" r="2.65"/><circle cx="638.8" cy="464.5" r="2.65"/><circle cx="642.6" cy="464.4" r="2.65"/><circle cx="646.4" cy="465.6" r="2.65"/><circle cx="650.3" cy="466" r="2.65"/><circle cx="654.1" cy="465.3" r="2.65"/><circle cx="657.9" cy="465.2" r="2.65"/><circle cx="661.7" cy="465.7" r="2.65"/><circle cx="665.6" cy="464.7" r="2.65"/><circle cx="669.4" cy="464.9" r="2.65"/><circle cx="673.2" cy="464.8" r="2.65"/><circle cx="677" cy="465.5" r="2.65"/><circle cx="680.9" cy="465.1" r="2.65"/><circle cx="684.7" cy="464.9" r="2.65"/><circle cx="688.5" cy="465.8" r="2.65"/><circle cx="692.3" cy="466.3" r="2.65"/><circle cx="696.2" cy="465.1" r="2.65"/><circle cx="700" cy="465.5" r="2.65"/><circle cx="703.8" cy="465.9" r="2.65"/><circle cx="707.6" cy="465.4" r="2.65"/><circle cx="711.4" cy="466.2" r="2.65"/><circle cx="715.2" cy="465.7" r="2.65"/><circle cx="719" cy="465.2" r="2.65"/><circle cx="722.9" cy="465.1" r="2.65"/><circle cx="726.7" cy="464.8" r="2.65"/><circle cx="730.5" cy="465.7" r="2.65"/><circle cx="734.3" cy="465.5" r="2.65"/><circle cx="738.1" cy="465.1" r="2.65"/><circle cx="741.9" cy="465.5" r="2.65"/><circle cx="745.7" cy="465.5" r="2.65"/><circle cx="749.5" cy="466.3" r="2.65"/><circle cx="753.3" cy="465.2" r="2.65"/><circle cx="757.1" cy="466.7" r="2.65"/><circle cx="761" cy="465.8" r="2.65"/><circle cx="764.8" cy="466.1" r="2.65"/><circle cx="768.6" cy="465.9" r="2.65"/><circle cx="772.4" cy="466.6" r="2.65"/><circle cx="776.2" cy="466.6" r="2.65"/><circle cx="780" cy="466" r="2.65"/><circle cx="784" cy="466.1" r="2.65"/><circle cx="788" cy="466" r="2.65"/><circle cx="792" cy="466.4" r="2.65"/><circle cx="796" cy="466.6" r="2.65"/><circle cx="800" cy="466" r="2.65"/><circle cx="803.5" cy="464.8" r="2.65"/><circle cx="807" cy="464" r="2.65"/><circle cx="810.5" cy="463.4" r="2.65"/><circle cx="814" cy="462" r="2.65"/><circle cx="818.4" cy="462.8" r="2.65"/><circle cx="822.7" cy="462" r="2.65"/></g>
<polyline points="101.7,469.5 105.5,469.4 109.4,469 113.2,469 117,469.8 120.8,469.7 124.7,470.1 128.5,469.9 132.3,468.9 136.2,468.8 140,469.3 143.7,468.8 147.4,468.6 151,469.3 154.7,469.4 158.4,469.3 162.1,468.2 165.8,469.1 169.5,468.1 173.1,468.1 176.8,468.5 180.5,468 184.3,467.3 188.1,467.3 191.9,468.5 195.7,467.7 199.5,467.8 203.3,468.1 207.2,468.3 211,467.2 214.8,467.7 218.6,467.9 222.4,468 226.2,467.5 230,468 233.8,468.1 237.5,468.6 241.2,467.7 245,467.8 248.6,467.9 252.1,467.2 255.7,467.4 259.3,468.1 262.9,467.2 266.4,468.4 270,467.8 273.8,468.6 277.5,467.4 281.2,468.9 285,468.1 288.8,468.9 292.5,469 296.2,468.3 300,468.8 303.8,469.1 307.5,469.1 311.2,469.4 315,468.6 318.8,469.4 322.5,469.8 326.2,469.4 330,469.2 333.8,468.6 337.5,469.2 341.2,469 345,469.7 348.8,469.7 352.5,469.5 356.2,468.9 360,469.5 363.8,469.7 367.5,469.7 371.2,469 375,470.2 378.8,469.8 382.5,469 386.2,470.3 390,469.6 393.7,469 397.4,469.2 401.1,469.8 404.7,469.6 408.4,469.5 412.1,469.6 415.8,469.2 419.5,468.9 423.2,468.7 426.8,468.4 430.5,469.4 434.2,469.4 437.9,469.1 441.6,469.3 445.3,468.7 448.9,468.5 452.6,468.6 456.3,469.3 460,468.7 463.7,467.9 467.4,468.6 471.1,468.2 474.7,469 478.4,468.3 482.1,468.2 485.8,468.3 489.5,468.5 493.2,468.8 496.8,468.1 500.5,468.8 504.2,467.6 507.9,467.9 511.6,467.5 515.3,467.5 518.9,468.6 522.6,468.4 526.3,467.5 530,468 533.8,467.5 537.5,467.8 541.2,468.2 545,468.3 548.8,468.1 552.5,467.8 556.2,467.1 560,467.6 563.8,467.5 567.5,467.2 571.2,467.8 575,468 578.8,467.5 582.5,467.6 586.2,468.5 590,467.4 593.8,468.7 597.5,468.9 601.2,469.1 605,468.4 608.8,468.2 612.5,468.5 616.2,468.6 620,468.7 623.8,469.3 627.5,468.8 631.2,468.2 635,469.1 638.8,468.6 642.5,468.8 646.2,469 650,467.8 653.8,469.1 657.5,468.9 661.2,468.7 665,468.8 668.8,468.7 672.5,468.3 676.2,468.8 680,468.8 683.6,467.8 687.1,468.3 690.7,468.3 694.3,467.7 697.9,467.6 701.4,468 705,467 708.8,468 712.5,467.2 716.2,468.6 720,468.5 723.6,468.3 727.2,467.1 730.8,467.2 734.4,466.6 738,466.7 742,466.9 746,468.4 750,469.2 753.8,469.9 757.5,468.9 761.2,469.8 765,469.5 768.8,468.6 772.5,469.8 776.2,469.4 780,469.9 783.8,469.5 787.5,469.6 791.2,468.9 795,469.2 798,470.1 801,470 805.5,468.7 810,466 814.2,465.9 818.5,464.6 822.7,464" fill="none" stroke="#008000" stroke-width="2" stroke-linejoin="round" stroke-linecap="square"/>
<g fill="#008000"><circle cx="101.7" cy="469.5" r="2.65"/><circle cx="105.5" cy="469.4" r="2.65"/><circle cx="109.4" cy="469" r="2.65"/><circle cx="113.2" cy="469" r="2.65"/><circle cx="117" cy="469.8" r="2.65"/><circle cx="120.8" cy="469.7" r="2.65"/><circle cx="124.7" cy="470.1" r="2.65"/><circle cx="128.5" cy="469.9" r="2.65"/><circle cx="132.3" cy="468.9" r="2.65"/><circle cx="136.2" cy="468.8" r="2.65"/><circle cx="140" cy="469.3" r="2.65"/><circle cx="143.7" cy="468.8" r="2.65"/><circle cx="147.4" cy="468.6" r="2.65"/><circle cx="151" cy="469.3" r="2.65"/><circle cx="154.7" cy="469.4" r="2.65"/><circle cx="158.4" cy="469.3" r="2.65"/><circle cx="162.1" cy="468.2" r="2.65"/><circle cx="165.8" cy="469.1" r="2.65"/><circle cx="169.5" cy="468.1" r="2.65"/><circle cx="173.1" cy="468.1" r="2.65"/><circle cx="176.8" cy="468.5" r="2.65"/><circle cx="180.5" cy="468" r="2.65"/><circle cx="184.3" cy="467.3" r="2.65"/><circle cx="188.1" cy="467.3" r="2.65"/><circle cx="191.9" cy="468.5" r="2.65"/><circle cx="195.7" cy="467.7" r="2.65"/><circle cx="199.5" cy="467.8" r="2.65"/><circle cx="203.3" cy="468.1" r="2.65"/><circle cx="207.2" cy="468.3" r="2.65"/><circle cx="211" cy="467.2" r="2.65"/><circle cx="214.8" cy="467.7" r="2.65"/><circle cx="218.6" cy="467.9" r="2.65"/><circle cx="222.4" cy="468" r="2.65"/><circle cx="226.2" cy="467.5" r="2.65"/><circle cx="230" cy="468" r="2.65"/><circle cx="233.8" cy="468.1" r="2.65"/><circle cx="237.5" cy="468.6" r="2.65"/><circle cx="241.2" cy="467.7" r="2.65"/><circle cx="245" cy="467.8" r="2.65"/><circle cx="248.6" cy="467.9" r="2.65"/><circle cx="252.1" cy="467.2" r="2.65"/><circle cx="255.7" cy="467.4" r="2.65"/><circle cx="259.3" cy="468.1" r="2.65"/><circle cx="262.9" cy="467.2" r="2.65"/><circle cx="266.4" cy="468.4" r="2.65"/><circle cx="270" cy="467.8" r="2.65"/><circle cx="273.8" cy="468.6" r="2.65"/><circle cx="277.5" cy="467.4" r="2.65"/><circle cx="281.2" cy="468.9" r="2.65"/><circle cx="285" cy="468.1" r="2.65"/><circle cx="288.8" cy="468.9" r="2.65"/><circle cx="292.5" cy="469" r="2.65"/><circle cx="296.2" cy="468.3" r="2.65"/><circle cx="300" cy="468.8" r="2.65"/><circle cx="303.8" cy="469.1" r="2.65"/><circle cx="307.5" cy="469.1" r="2.65"/><circle cx="311.2" cy="469.4" r="2.65"/><circle cx="315" cy="468.6" r="2.65"/><circle cx="318.8" cy="469.4" r="2.65"/><circle cx="322.5" cy="469.8" r="2.65"/><circle cx="326.2" cy="469.4" r="2.65"/><circle cx="330" cy="469.2" r="2.65"/><circle cx="333.8" cy="468.6" r="2.65"/><circle cx="337.5" cy="469.2" r="2.65"/><circle cx="341.2" cy="469" r="2.65"/><circle cx="345" cy="469.7" r="2.65"/><circle cx="348.8" cy="469.7" r="2.65"/><circle cx="352.5" cy="469.5" r="2.65"/><circle cx="356.2" cy="468.9" r="2.65"/><circle cx="360" cy="469.5" r="2.65"/><circle cx="363.8" cy="469.7" r="2.65"/><circle cx="367.5" cy="469.7" r="2.65"/><circle cx="371.2" cy="469" r="2.65"/><circle cx="375" cy="470.2" r="2.65"/><circle cx="378.8" cy="469.8" r="2.65"/><circle cx="382.5" cy="469" r="2.65"/><circle cx="386.2" cy="470.3" r="2.65"/><circle cx="390" cy="469.6" r="2.65"/><circle cx="393.7" cy="469" r="2.65"/><circle cx="397.4" cy="469.2" r="2.65"/><circle cx="401.1" cy="469.8" r="2.65"/><circle cx="404.7" cy="469.6" r="2.65"/><circle cx="408.4" cy="469.5" r="2.65"/><circle cx="412.1" cy="469.6" r="2.65"/><circle cx="415.8" cy="469.2" r="2.65"/><circle cx="419.5" cy="468.9" r="2.65"/><circle cx="423.2" cy="468.7" r="2.65"/><circle cx="426.8" cy="468.4" r="2.65"/><circle cx="430.5" cy="469.4" r="2.65"/><circle cx="434.2" cy="469.4" r="2.65"/><circle cx="437.9" cy="469.1" r="2.65"/><circle cx="441.6" cy="469.3" r="2.65"/><circle cx="445.3" cy="468.7" r="2.65"/><circle cx="448.9" cy="468.5" r="2.65"/><circle cx="452.6" cy="468.6" r="2.65"/><circle cx="456.3" cy="469.3" r="2.65"/><circle cx="460" cy="468.7" r="2.65"/><circle cx="463.7" cy="467.9" r="2.65"/><circle cx="467.4" cy="468.6" r="2.65"/><circle cx="471.1" cy="468.2" r="2.65"/><circle cx="474.7" cy="469" r="2.65"/><circle cx="478.4" cy="468.3" r="2.65"/><circle cx="482.1" cy="468.2" r="2.65"/><circle cx="485.8" cy="468.3" r="2.65"/><circle cx="489.5" cy="468.5" r="2.65"/><circle cx="493.2" cy="468.8" r="2.65"/><circle cx="496.8" cy="468.1" r="2.65"/><circle cx="500.5" cy="468.8" r="2.65"/><circle cx="504.2" cy="467.6" r="2.65"/><circle cx="507.9" cy="467.9" r="2.65"/><circle cx="511.6" cy="467.5" r="2.65"/><circle cx="515.3" cy="467.5" r="2.65"/><circle cx="518.9" cy="468.6" r="2.65"/><circle cx="522.6" cy="468.4" r="2.65"/><circle cx="526.3" cy="467.5" r="2.65"/><circle cx="530" cy="468" r="2.65"/><circle cx="533.8" cy="467.5" r="2.65"/><circle cx="537.5" cy="467.8" r="2.65"/><circle cx="541.2" cy="468.2" r="2.65"/><circle cx="545" cy="468.3" r="2.65"/><circle cx="548.8" cy="468.1" r="2.65"/><circle cx="552.5" cy="467.8" r="2.65"/><circle cx="556.2" cy="467.1" r="2.65"/><circle cx="560" cy="467.6" r="2.65"/><circle cx="563.8" cy="467.5" r="2.65"/><circle cx="567.5" cy="467.2" r="2.65"/><circle cx="571.2" cy="467.8" r="2.65"/><circle cx="575" cy="468" r="2.65"/><circle cx="578.8" cy="467.5" r="2.65"/><circle cx="582.5" cy="467.6" r="2.65"/><circle cx="586.2" cy="468.5" r="2.65"/><circle cx="590" cy="467.4" r="2.65"/><circle cx="593.8" cy="468.7" r="2.65"/><circle cx="597.5" cy="468.9" r="2.65"/><circle cx="601.2" cy="469.1" r="2.65"/><circle cx="605" cy="468.4" r="2.65"/><circle cx="608.8" cy="468.2" r="2.65"/><circle cx="612.5" cy="468.5" r="2.65"/><circle cx="616.2" cy="468.6" r="2.65"/><circle cx="620" cy="468.7" r="2.65"/><circle cx="623.8" cy="469.3" r="2.65"/><circle cx="627.5" cy="468.8" r="2.65"/><circle cx="631.2" cy="468.2" r="2.65"/><circle cx="635" cy="469.1" r="2.65"/><circle cx="638.8" cy="468.6" r="2.65"/><circle cx="642.5" cy="468.8" r="2.65"/><circle cx="646.2" cy="469" r="2.65"/><circle cx="650" cy="467.8" r="2.65"/><circle cx="653.8" cy="469.1" r="2.65"/><circle cx="657.5" cy="468.9" r="2.65"/><circle cx="661.2" cy="468.7" r="2.65"/><circle cx="665" cy="468.8" r="2.65"/><circle cx="668.8" cy="468.7" r="2.65"/><circle cx="672.5" cy="468.3" r="2.65"/><circle cx="676.2" cy="468.8" r="2.65"/><circle cx="680" cy="468.8" r="2.65"/><circle cx="683.6" cy="467.8" r="2.65"/><circle cx="687.1" cy="468.3" r="2.65"/><circle cx="690.7" cy="468.3" r="2.65"/><circle cx="694.3" cy="467.7" r="2.65"/><circle cx="697.9" cy="467.6" r="2.65"/><circle cx="701.4" cy="468" r="2.65"/><circle cx="705" cy="467" r="2.65"/><circle cx="708.8" cy="468" r="2.65"/><circle cx="712.5" cy="467.2" r="2.65"/><circle cx="716.2" cy="468.6" r="2.65"/><circle cx="720" cy="468.5" r="2.65"/><circle cx="723.6" cy="468.3" r="2.65"/><circle cx="727.2" cy="467.1" r="2.65"/><circle cx="730.8" cy="467.2" r="2.65"/><circle cx="734.4" cy="466.6" r="2.65"/><circle cx="738" cy="466.7" r="2.65"/><circle cx="742" cy="466.9" r="2.65"/><circle cx="746" cy="468.4" r="2.65"/><circle cx="750" cy="469.2" r="2.65"/><circle cx="753.8" cy="469.9" r="2.65"/><circle cx="757.5" cy="468.9" r="2.65"/><circle cx="761.2" cy="469.8" r="2.65"/><circle cx="765" cy="469.5" r="2.65"/><circle cx="768.8" cy="468.6" r="2.65"/><circle cx="772.5" cy="469.8" r="2.65"/><circle cx="776.2" cy="469.4" r="2.65"/><circle cx="780" cy="469.9" r="2.65"/><circle cx="783.8" cy="469.5" r="2.65"/><circle cx="787.5" cy="469.6" r="2.65"/><circle cx="791.2" cy="468.9" r="2.65"/><circle cx="795" cy="469.2" r="2.65"/><circle cx="798" cy="470.1" r="2.65"/><circle cx="801" cy="470" r="2.65"/><circle cx="805.5" cy="468.7" r="2.65"/><circle cx="810" cy="466" r="2.65"/><circle cx="814.2" cy="465.9" r="2.65"/><circle cx="818.5" cy="464.6" r="2.65"/><circle cx="822.7" cy="464" r="2.65"/></g>
<polyline points="101.7,394.2 104,399.5 107,399.2 110,398 113,399.5 116,401 119,398.5 122,397.2 125.7,394.2 131,394.2 134,396.5 137,394.6 140,394.2 145.2,392 150.5,396.5 156.2,398.7 160.2,396.2 163.7,391.7 167.3,401 172.2,395.3 177.2,394.2 180.3,388.7 183.5,384.5 187.2,383.7 188.7,387.8 193.2,380.7 196.2,385.9 199.2,392 203,385.2 206,383.9 209,383.7 212,383.5 215,383.3 218,383.5 221,383 224,382.7 227,382.2 230.7,386 236,386.7 239,389.7 243,383 246,383.6 249,384.5 254.2,385.2 258,380.7 262.5,384.5 267,386.7 270.8,385.7 274.5,384.2 277.5,384.8 280.5,386 285,383.7 289.5,389 293.2,389.8 297,390.8 300.8,389.2 304.5,386.7 309,390.8 312,389 315,387.5 320.2,389.7 324,387.8 327,395.7 331.5,388.2 336,391.2 340.5,390.3 345,390.5 349.4,395 353.2,387.5 357,394.2 361.4,391.2 365.2,393.3 369,394.2 372,392.6 375,390.2 379.4,395 382.4,397 385.4,399.5 389.5,390.7 394.7,390.7 399.2,393.7 402.2,392 405.2,390.7 408.9,392.2 412.7,393.7 416.9,393.9 421,393.7 425.5,391.4 430,390 433.3,402.7 436,394.5 439.7,393.7 442.7,400.5 446.5,395.2 451,396.7 454.1,391.1 457.3,387 461.5,399 464.5,393.3 467.5,388.5 471.2,389.3 475,389.2 479.5,384.3 483.2,382.4 487,381.7 490,383.1 493,384.7 496.8,384.6 500.5,385.5 505,390 509.5,385.5 513.2,385.4 517,386.2 520.7,387.2 524.4,389.2 527.4,389.4 530.4,390 536,386 541.2,382.2 546.5,388.2 549.5,384.5 552.5,382.5 555.5,381.5 559.2,386 563.7,390.2 569,395 573.5,393.5 578,392 582.5,395 586.2,391.2 590,387.5 593,388.6 596,391.2 600.5,386 604.2,390.5 608,396.2 611,393.9 614,392.7 617,391.9 620,391.2 623,389.4 626,389 630.5,391.7 635,398.7 638,392.7 642.5,389.7 647,388.2 650,395.7 653,394.1 656,392.7 659,392.8 662,393.2 666.4,392.7 671,395.7 676.2,397.2 681,403.5 685.5,396.7 688.9,398.5 692.2,399.7 696,390 701.2,386.7 704.2,382 707.2,378.7 711,390 715.5,377.7 718.5,386.2 722.6,387.2 726.7,388.5 730.5,383.2 733.5,377.7 737.6,378.8 741.7,380.2 746.2,398.2 751.5,393 755.2,393 759,394.5 763.5,394.8 768,393.7 772.5,400.5 776.2,398.2 780,396.7 783.5,394.3 786.9,393.2 790.4,391.5 794.2,389.1 798,387.7 801.7,388.6 805.4,389.2 809.2,391.2 813,393.7 817.4,387.7 822,390.7" fill="none" stroke="#ffd700" stroke-width="2" stroke-linejoin="round" stroke-linecap="square"/>
<g fill="#ffd700"><circle cx="101.7" cy="394.2" r="2.65"/><circle cx="104" cy="399.5" r="2.65"/><circle cx="107" cy="399.2" r="2.65"/><circle cx="110" cy="398" r="2.65"/><circle cx="113" cy="399.5" r="2.65"/><circle cx="116" cy="401" r="2.65"/><circle cx="119" cy="398.5" r="2.65"/><circle cx="122" cy="397.2" r="2.65"/><circle cx="125.7" cy="394.2" r="2.65"/><circle cx="131" cy="394.2" r="2.65"/><circle cx="134" cy="396.5" r="2.65"/><circle cx="137" cy="394.6" r="2.65"/><circle cx="140" cy="394.2" r="2.65"/><circle cx="145.2" cy="392" r="2.65"/><circle cx="150.5" cy="396.5" r="2.65"/><circle cx="156.2" cy="398.7" r="2.65"/><circle cx="160.2" cy="396.2" r="2.65"/><circle cx="163.7" cy="391.7" r="2.65"/><circle cx="167.3" cy="401" r="2.65"/><circle cx="172.2" cy="395.3" r="2.65"/><circle cx="177.2" cy="394.2" r="2.65"/><circle cx="180.3" cy="388.7" r="2.65"/><circle cx="183.5" cy="384.5" r="2.65"/><circle cx="187.2" cy="383.7" r="2.65"/><circle cx="188.7" cy="387.8" r="2.65"/><circle cx="193.2" cy="380.7" r="2.65"/><circle cx="196.2" cy="385.9" r="2.65"/><circle cx="199.2" cy="392" r="2.65"/><circle cx="203" cy="385.2" r="2.65"/><circle cx="206" cy="383.9" r="2.65"/><circle cx="209" cy="383.7" r="2.65"/><circle cx="212" cy="383.5" r="2.65"/><circle cx="215" cy="383.3" r="2.65"/><circle cx="218" cy="383.5" r="2.65"/><circle cx="221" cy="383" r="2.65"/><circle cx="224" cy="382.7" r="2.65"/><circle cx="227" cy="382.2" r="2.65"/><circle cx="230.7" cy="386" r="2.65"/><circle cx="236" cy="386.7" r="2.65"/><circle cx="239" cy="389.7" r="2.65"/><circle cx="243" cy="383" r="2.65"/><circle cx="246" cy="383.6" r="2.65"/><circle cx="249" cy="384.5" r="2.65"/><circle cx="254.2" cy="385.2" r="2.65"/><circle cx="258" cy="380.7" r="2.65"/><circle cx="262.5" cy="384.5" r="2.65"/><circle cx="267" cy="386.7" r="2.65"/><circle cx="270.8" cy="385.7" r="2.65"/><circle cx="274.5" cy="384.2" r="2.65"/><circle cx="277.5" cy="384.8" r="2.65"/><circle cx="280.5" cy="386" r="2.65"/><circle cx="285" cy="383.7" r="2.65"/><circle cx="289.5" cy="389" r="2.65"/><circle cx="293.2" cy="389.8" r="2.65"/><circle cx="297" cy="390.8" r="2.65"/><circle cx="300.8" cy="389.2" r="2.65"/><circle cx="304.5" cy="386.7" r="2.65"/><circle cx="309" cy="390.8" r="2.65"/><circle cx="312" cy="389" r="2.65"/><circle cx="315" cy="387.5" r="2.65"/><circle cx="320.2" cy="389.7" r="2.65"/><circle cx="324" cy="387.8" r="2.65"/><circle cx="327" cy="395.7" r="2.65"/><circle cx="331.5" cy="388.2" r="2.65"/><circle cx="336" cy="391.2" r="2.65"/><circle cx="340.5" cy="390.3" r="2.65"/><circle cx="345" cy="390.5" r="2.65"/><circle cx="349.4" cy="395" r="2.65"/><circle cx="353.2" cy="387.5" r="2.65"/><circle cx="357" cy="394.2" r="2.65"/><circle cx="361.4" cy="391.2" r="2.65"/><circle cx="365.2" cy="393.3" r="2.65"/><circle cx="369" cy="394.2" r="2.65"/><circle cx="372" cy="392.6" r="2.65"/><circle cx="375" cy="390.2" r="2.65"/><circle cx="379.4" cy="395" r="2.65"/><circle cx="382.4" cy="397" r="2.65"/><circle cx="385.4" cy="399.5" r="2.65"/><circle cx="389.5" cy="390.7" r="2.65"/><circle cx="394.7" cy="390.7" r="2.65"/><circle cx="399.2" cy="393.7" r="2.65"/><circle cx="402.2" cy="392" r="2.65"/><circle cx="405.2" cy="390.7" r="2.65"/><circle cx="408.9" cy="392.2" r="2.65"/><circle cx="412.7" cy="393.7" r="2.65"/><circle cx="416.9" cy="393.9" r="2.65"/><circle cx="421" cy="393.7" r="2.65"/><circle cx="425.5" cy="391.4" r="2.65"/><circle cx="430" cy="390" r="2.65"/><circle cx="433.3" cy="402.7" r="2.65"/><circle cx="436" cy="394.5" r="2.65"/><circle cx="439.7" cy="393.7" r="2.65"/><circle cx="442.7" cy="400.5" r="2.65"/><circle cx="446.5" cy="395.2" r="2.65"/><circle cx="451" cy="396.7" r="2.65"/><circle cx="454.1" cy="391.1" r="2.65"/><circle cx="457.3" cy="387" r="2.65"/><circle cx="461.5" cy="399" r="2.65"/><circle cx="464.5" cy="393.3" r="2.65"/><circle cx="467.5" cy="388.5" r="2.65"/><circle cx="471.2" cy="389.3" r="2.65"/><circle cx="475" cy="389.2" r="2.65"/><circle cx="479.5" cy="384.3" r="2.65"/><circle cx="483.2" cy="382.4" r="2.65"/><circle cx="487" cy="381.7" r="2.65"/><circle cx="490" cy="383.1" r="2.65"/><circle cx="493" cy="384.7" r="2.65"/><circle cx="496.8" cy="384.6" r="2.65"/><circle cx="500.5" cy="385.5" r="2.65"/><circle cx="505" cy="390" r="2.65"/><circle cx="509.5" cy="385.5" r="2.65"/><circle cx="513.2" cy="385.4" r="2.65"/><circle cx="517" cy="386.2" r="2.65"/><circle cx="520.7" cy="387.2" r="2.65"/><circle cx="524.4" cy="389.2" r="2.65"/><circle cx="527.4" cy="389.4" r="2.65"/><circle cx="530.4" cy="390" r="2.65"/><circle cx="536" cy="386" r="2.65"/><circle cx="541.2" cy="382.2" r="2.65"/><circle cx="546.5" cy="388.2" r="2.65"/><circle cx="549.5" cy="384.5" r="2.65"/><circle cx="552.5" cy="382.5" r="2.65"/><circle cx="555.5" cy="381.5" r="2.65"/><circle cx="559.2" cy="386" r="2.65"/><circle cx="563.7" cy="390.2" r="2.65"/><circle cx="569" cy="395" r="2.65"/><circle cx="573.5" cy="393.5" r="2.65"/><circle cx="578" cy="392" r="2.65"/><circle cx="582.5" cy="395" r="2.65"/><circle cx="586.2" cy="391.2" r="2.65"/><circle cx="590" cy="387.5" r="2.65"/><circle cx="593" cy="388.6" r="2.65"/><circle cx="596" cy="391.2" r="2.65"/><circle cx="600.5" cy="386" r="2.65"/><circle cx="604.2" cy="390.5" r="2.65"/><circle cx="608" cy="396.2" r="2.65"/><circle cx="611" cy="393.9" r="2.65"/><circle cx="614" cy="392.7" r="2.65"/><circle cx="617" cy="391.9" r="2.65"/><circle cx="620" cy="391.2" r="2.65"/><circle cx="623" cy="389.4" r="2.65"/><circle cx="626" cy="389" r="2.65"/><circle cx="630.5" cy="391.7" r="2.65"/><circle cx="635" cy="398.7" r="2.65"/><circle cx="638" cy="392.7" r="2.65"/><circle cx="642.5" cy="389.7" r="2.65"/><circle cx="647" cy="388.2" r="2.65"/><circle cx="650" cy="395.7" r="2.65"/><circle cx="653" cy="394.1" r="2.65"/><circle cx="656" cy="392.7" r="2.65"/><circle cx="659" cy="392.8" r="2.65"/><circle cx="662" cy="393.2" r="2.65"/><circle cx="666.4" cy="392.7" r="2.65"/><circle cx="671" cy="395.7" r="2.65"/><circle cx="676.2" cy="397.2" r="2.65"/><circle cx="681" cy="403.5" r="2.65"/><circle cx="685.5" cy="396.7" r="2.65"/><circle cx="688.9" cy="398.5" r="2.65"/><circle cx="692.2" cy="399.7" r="2.65"/><circle cx="696" cy="390" r="2.65"/><circle cx="701.2" cy="386.7" r="2.65"/><circle cx="704.2" cy="382" r="2.65"/><circle cx="707.2" cy="378.7" r="2.65"/><circle cx="711" cy="390" r="2.65"/><circle cx="715.5" cy="377.7" r="2.65"/><circle cx="718.5" cy="386.2" r="2.65"/><circle cx="722.6" cy="387.2" r="2.65"/><circle cx="726.7" cy="388.5" r="2.65"/><circle cx="730.5" cy="383.2" r="2.65"/><circle cx="733.5" cy="377.7" r="2.65"/><circle cx="737.6" cy="378.8" r="2.65"/><circle cx="741.7" cy="380.2" r="2.65"/><circle cx="746.2" cy="398.2" r="2.65"/><circle cx="751.5" cy="393" r="2.65"/><circle cx="755.2" cy="393" r="2.65"/><circle cx="759" cy="394.5" r="2.65"/><circle cx="763.5" cy="394.8" r="2.65"/><circle cx="768" cy="393.7" r="2.65"/><circle cx="772.5" cy="400.5" r="2.65"/><circle cx="776.2" cy="398.2" r="2.65"/><circle cx="780" cy="396.7" r="2.65"/><circle cx="783.5" cy="394.3" r="2.65"/><circle cx="786.9" cy="393.2" r="2.65"/><circle cx="790.4" cy="391.5" r="2.65"/><circle cx="794.2" cy="389.1" r="2.65"/><circle cx="798" cy="387.7" r="2.65"/><circle cx="801.7" cy="388.6" r="2.65"/><circle cx="805.4" cy="389.2" r="2.65"/><circle cx="809.2" cy="391.2" r="2.65"/><circle cx="813" cy="393.7" r="2.65"/><circle cx="817.4" cy="387.7" r="2.65"/><circle cx="822" cy="390.7" r="2.65"/></g>
<polyline points="101.7,359 104,366.5 107,363.8 110,362.3 113,364 116,367.2 121.2,366.5 125,362 129.5,361.2 133.7,362.7 137.3,357.8 141.5,361.2 145.2,357.8 148.7,364.2 152,360.8 152,366.5 156.2,371.7 159.8,364.2 163.7,362.7 167.3,376.2 172.2,365 176.7,366.5 179.9,359.7 183.2,352.2 186.5,350 188.3,358.2 193.2,345.8 196.2,352.8 199.2,360.5 203,351.5 207.5,349.2 213.4,348.2 218.7,344.7 222.4,346.2 225.4,344 231.1,353.3 235.2,350 239.7,354.5 243.7,350.7 246.7,353.4 249.7,355.2 255,352.7 259.5,350.7 262.5,351.4 265.5,352.2 270,352.1 274.5,350.7 278,350.4 281.5,350.3 285,350.7 289.5,356 294,354.8 298.5,358.7 301.5,358.1 304.5,358.2 309,362.7 312,359.7 315.7,353.7 319.5,359.7 324,358.2 326.2,369.5 330,362 334.5,365 339,361.2 342,367.2 345.7,362.7 349.4,372.5 353.2,353 356.2,364.7 360.7,358.2 364.4,371.7 369,374 372,371.4 375,367.7 380.2,374.3 383.2,377 386.2,379.2 390.2,369.7 394.7,369.7 398.5,377.2 401.5,374.4 404.5,372 408.2,372.7 412,374.7 415.8,374.7 419.5,374.2 424,375.7 427.7,371.7 431.5,373.5 433.3,387.7 436,379.5 439.3,376.5 442.7,385.2 445.7,378.7 451,375.7 454.1,371.6 457.3,366 461.5,380.2 464.9,375.3 468.2,370.2 471.6,369.6 475,370.5 479.5,364.8 483.2,363.5 487,363.7 490,364.5 493,366.7 496,365.8 499,366 502,368.6 505,372.7 510.2,368.2 513.6,367.9 517,369 521.1,374.5 525.2,379.5 528.4,375.9 531.5,371 536,366.5 540.5,365 545,368 549.5,367.2 552.5,364.2 555.5,357.5 558.5,362 562.2,353.7 566.7,355.7 570.5,357.5 573.5,354.5 578.7,359 582.5,364.2 585.5,358.2 589.2,354.2 594.5,355.2 597.5,353.6 600.5,353 604.2,359.8 608,365 612.5,361.2 615.5,359.9 618.5,358.7 623,354.5 626.7,352.7 631.2,358.2 635.7,370.2 638,361.2 642.4,360.2 646.2,356.7 648.4,364.2 653,358.7 657.4,361.2 661.2,365.8 665,369.5 668,370.9 671,371 674.1,369.2 677.2,366 681,371.2 685.5,366.7 690,370.5 693,369.7 696,356.2 701.2,354.7 704.2,347 707.2,340.8 711,354 715.5,340.8 718.5,350.2 723,350.7 726.7,352.5 730.5,346.5 734.2,343.8 738,345 741.7,346.2 746.2,364.5 750.7,360.7 756,363 761.2,362.7 765,362.4 768.7,362.7 772.5,372.7 775.5,371.4 778.5,369.7 781.5,369.3 784.5,367.5 790.4,369.7 795,370.5 799.4,373.5 803.2,374.7 808.4,366.7 813,362.7 817.4,359.7 822.7,362.2" fill="none" stroke="#00bfbf" stroke-width="2" stroke-linejoin="round" stroke-linecap="square"/>
<g fill="#00bfbf"><circle cx="101.7" cy="359" r="2.65"/><circle cx="104" cy="366.5" r="2.65"/><circle cx="107" cy="363.8" r="2.65"/><circle cx="110" cy="362.3" r="2.65"/><circle cx="113" cy="364" r="2.65"/><circle cx="116" cy="367.2" r="2.65"/><circle cx="121.2" cy="366.5" r="2.65"/><circle cx="125" cy="362" r="2.65"/><circle cx="129.5" cy="361.2" r="2.65"/><circle cx="133.7" cy="362.7" r="2.65"/><circle cx="137.3" cy="357.8" r="2.65"/><circle cx="141.5" cy="361.2" r="2.65"/><circle cx="145.2" cy="357.8" r="2.65"/><circle cx="148.7" cy="364.2" r="2.65"/><circle cx="152" cy="360.8" r="2.65"/><circle cx="152" cy="366.5" r="2.65"/><circle cx="156.2" cy="371.7" r="2.65"/><circle cx="159.8" cy="364.2" r="2.65"/><circle cx="163.7" cy="362.7" r="2.65"/><circle cx="167.3" cy="376.2" r="2.65"/><circle cx="172.2" cy="365" r="2.65"/><circle cx="176.7" cy="366.5" r="2.65"/><circle cx="179.9" cy="359.7" r="2.65"/><circle cx="183.2" cy="352.2" r="2.65"/><circle cx="186.5" cy="350" r="2.65"/><circle cx="188.3" cy="358.2" r="2.65"/><circle cx="193.2" cy="345.8" r="2.65"/><circle cx="196.2" cy="352.8" r="2.65"/><circle cx="199.2" cy="360.5" r="2.65"/><circle cx="203" cy="351.5" r="2.65"/><circle cx="207.5" cy="349.2" r="2.65"/><circle cx="213.4" cy="348.2" r="2.65"/><circle cx="218.7" cy="344.7" r="2.65"/><circle cx="222.4" cy="346.2" r="2.65"/><circle cx="225.4" cy="344" r="2.65"/><circle cx="231.1" cy="353.3" r="2.65"/><circle cx="235.2" cy="350" r="2.65"/><circle cx="239.7" cy="354.5" r="2.65"/><circle cx="243.7" cy="350.7" r="2.65"/><circle cx="246.7" cy="353.4" r="2.65"/><circle cx="249.7" cy="355.2" r="2.65"/><circle cx="255" cy="352.7" r="2.65"/><circle cx="259.5" cy="350.7" r="2.65"/><circle cx="262.5" cy="351.4" r="2.65"/><circle cx="265.5" cy="352.2" r="2.65"/><circle cx="270" cy="352.1" r="2.65"/><circle cx="274.5" cy="350.7" r="2.65"/><circle cx="278" cy="350.4" r="2.65"/><circle cx="281.5" cy="350.3" r="2.65"/><circle cx="285" cy="350.7" r="2.65"/><circle cx="289.5" cy="356" r="2.65"/><circle cx="294" cy="354.8" r="2.65"/><circle cx="298.5" cy="358.7" r="2.65"/><circle cx="301.5" cy="358.1" r="2.65"/><circle cx="304.5" cy="358.2" r="2.65"/><circle cx="309" cy="362.7" r="2.65"/><circle cx="312" cy="359.7" r="2.65"/><circle cx="315.7" cy="353.7" r="2.65"/><circle cx="319.5" cy="359.7" r="2.65"/><circle cx="324" cy="358.2" r="2.65"/><circle cx="326.2" cy="369.5" r="2.65"/><circle cx="330" cy="362" r="2.65"/><circle cx="334.5" cy="365" r="2.65"/><circle cx="339" cy="361.2" r="2.65"/><circle cx="342" cy="367.2" r="2.65"/><circle cx="345.7" cy="362.7" r="2.65"/><circle cx="349.4" cy="372.5" r="2.65"/><circle cx="353.2" cy="353" r="2.65"/><circle cx="356.2" cy="364.7" r="2.65"/><circle cx="360.7" cy="358.2" r="2.65"/><circle cx="364.4" cy="371.7" r="2.65"/><circle cx="369" cy="374" r="2.65"/><circle cx="372" cy="371.4" r="2.65"/><circle cx="375" cy="367.7" r="2.65"/><circle cx="380.2" cy="374.3" r="2.65"/><circle cx="383.2" cy="377" r="2.65"/><circle cx="386.2" cy="379.2" r="2.65"/><circle cx="390.2" cy="369.7" r="2.65"/><circle cx="394.7" cy="369.7" r="2.65"/><circle cx="398.5" cy="377.2" r="2.65"/><circle cx="401.5" cy="374.4" r="2.65"/><circle cx="404.5" cy="372" r="2.65"/><circle cx="408.2" cy="372.7" r="2.65"/><circle cx="412" cy="374.7" r="2.65"/><circle cx="415.8" cy="374.7" r="2.65"/><circle cx="419.5" cy="374.2" r="2.65"/><circle cx="424" cy="375.7" r="2.65"/><circle cx="427.7" cy="371.7" r="2.65"/><circle cx="431.5" cy="373.5" r="2.65"/><circle cx="433.3" cy="387.7" r="2.65"/><circle cx="436" cy="379.5" r="2.65"/><circle cx="439.3" cy="376.5" r="2.65"/><circle cx="442.7" cy="385.2" r="2.65"/><circle cx="445.7" cy="378.7" r="2.65"/><circle cx="451" cy="375.7" r="2.65"/><circle cx="454.1" cy="371.6" r="2.65"/><circle cx="457.3" cy="366" r="2.65"/><circle cx="461.5" cy="380.2" r="2.65"/><circle cx="464.9" cy="375.3" r="2.65"/><circle cx="468.2" cy="370.2" r="2.65"/><circle cx="471.6" cy="369.6" r="2.65"/><circle cx="475" cy="370.5" r="2.65"/><circle cx="479.5" cy="364.8" r="2.65"/><circle cx="483.2" cy="363.5" r="2.65"/><circle cx="487" cy="363.7" r="2.65"/><circle cx="490" cy="364.5" r="2.65"/><circle cx="493" cy="366.7" r="2.65"/><circle cx="496" cy="365.8" r="2.65"/><circle cx="499" cy="366" r="2.65"/><circle cx="502" cy="368.6" r="2.65"/><circle cx="505" cy="372.7" r="2.65"/><circle cx="510.2" cy="368.2" r="2.65"/><circle cx="513.6" cy="367.9" r="2.65"/><circle cx="517" cy="369" r="2.65"/><circle cx="521.1" cy="374.5" r="2.65"/><circle cx="525.2" cy="379.5" r="2.65"/><circle cx="528.4" cy="375.9" r="2.65"/><circle cx="531.5" cy="371" r="2.65"/><circle cx="536" cy="366.5" r="2.65"/><circle cx="540.5" cy="365" r="2.65"/><circle cx="545" cy="368" r="2.65"/><circle cx="549.5" cy="367.2" r="2.65"/><circle cx="552.5" cy="364.2" r="2.65"/><circle cx="555.5" cy="357.5" r="2.65"/><circle cx="558.5" cy="362" r="2.65"/><circle cx="562.2" cy="353.7" r="2.65"/><circle cx="566.7" cy="355.7" r="2.65"/><circle cx="570.5" cy="357.5" r="2.65"/><circle cx="573.5" cy="354.5" r="2.65"/><circle cx="578.7" cy="359" r="2.65"/><circle cx="582.5" cy="364.2" r="2.65"/><circle cx="585.5" cy="358.2" r="2.65"/><circle cx="589.2" cy="354.2" r="2.65"/><circle cx="594.5" cy="355.2" r="2.65"/><circle cx="597.5" cy="353.6" r="2.65"/><circle cx="600.5" cy="353" r="2.65"/><circle cx="604.2" cy="359.8" r="2.65"/><circle cx="608" cy="365" r="2.65"/><circle cx="612.5" cy="361.2" r="2.65"/><circle cx="615.5" cy="359.9" r="2.65"/><circle cx="618.5" cy="358.7" r="2.65"/><circle cx="623" cy="354.5" r="2.65"/><circle cx="626.7" cy="352.7" r="2.65"/><circle cx="631.2" cy="358.2" r="2.65"/><circle cx="635.7" cy="370.2" r="2.65"/><circle cx="638" cy="361.2" r="2.65"/><circle cx="642.4" cy="360.2" r="2.65"/><circle cx="646.2" cy="356.7" r="2.65"/><circle cx="648.4" cy="364.2" r="2.65"/><circle cx="653" cy="358.7" r="2.65"/><circle cx="657.4" cy="361.2" r="2.65"/><circle cx="661.2" cy="365.8" r="2.65"/><circle cx="665" cy="369.5" r="2.65"/><circle cx="668" cy="370.9" r="2.65"/><circle cx="671" cy="371" r="2.65"/><circle cx="674.1" cy="369.2" r="2.65"/><circle cx="677.2" cy="366" r="2.65"/><circle cx="681" cy="371.2" r="2.65"/><circle cx="685.5" cy="366.7" r="2.65"/><circle cx="690" cy="370.5" r="2.65"/><circle cx="693" cy="369.7" r="2.65"/><circle cx="696" cy="356.2" r="2.65"/><circle cx="701.2" cy="354.7" r="2.65"/><circle cx="704.2" cy="347" r="2.65"/><circle cx="707.2" cy="340.8" r="2.65"/><circle cx="711" cy="354" r="2.65"/><circle cx="715.5" cy="340.8" r="2.65"/><circle cx="718.5" cy="350.2" r="2.65"/><circle cx="723" cy="350.7" r="2.65"/><circle cx="726.7" cy="352.5" r="2.65"/><circle cx="730.5" cy="346.5" r="2.65"/><circle cx="734.2" cy="343.8" r="2.65"/><circle cx="738" cy="345" r="2.65"/><circle cx="741.7" cy="346.2" r="2.65"/><circle cx="746.2" cy="364.5" r="2.65"/><circle cx="750.7" cy="360.7" r="2.65"/><circle cx="756" cy="363" r="2.65"/><circle cx="761.2" cy="362.7" r="2.65"/><circle cx="765" cy="362.4" r="2.65"/><circle cx="768.7" cy="362.7" r="2.65"/><circle cx="772.5" cy="372.7" r="2.65"/><circle cx="775.5" cy="371.4" r="2.65"/><circle cx="778.5" cy="369.7" r="2.65"/><circle cx="781.5" cy="369.3" r="2.65"/><circle cx="784.5" cy="367.5" r="2.65"/><circle cx="790.4" cy="369.7" r="2.65"/><circle cx="795" cy="370.5" r="2.65"/><circle cx="799.4" cy="373.5" r="2.65"/><circle cx="803.2" cy="374.7" r="2.65"/><circle cx="808.4" cy="366.7" r="2.65"/><circle cx="813" cy="362.7" r="2.65"/><circle cx="817.4" cy="359.7" r="2.65"/><circle cx="822.7" cy="362.2" r="2.65"/></g>
<polyline points="101,272 104,277.4 110,275 115,281.4 121,282.6 125,271.6 129.4,265.4 133.4,272.6 137,267 141,272.6 145.4,271.4 148.6,276 152,271.4 151,277.4 156.6,287.4 160,278.6 163.4,273.4 167.4,292.6 172,273.4 176.6,273.4 184,251 186,244.6 188,254.6 193.4,239.4 199,262.6 203,245.4 207.4,244 211.4,238.6 214.6,240.6 218.6,234 222.6,237.4 225.4,241.4 231.4,256.6 235.6,251 239.4,261.6 243,256.6 246.6,255 250.6,249.4 254.6,250.6 258.6,245 261.4,242.6 267.4,251.6 270.6,254.6 274.6,251 278.6,249 282.6,252.6 286,252.6 289.4,261.4 293.4,252 297.4,263.4 304.4,256.6 308.4,267.4 312,257 315.4,254 319.4,259.4 323.4,263.4 326,276 328.6,269 330.6,258 334.6,266.6 338,264.6 341.4,275.4 345.4,263 349.4,281.4 353.4,256 356.6,268.6 360.6,258.6 362.6,275.4 364.6,285.4 368.6,283.4 371.4,278.6 375.4,271.4 379.4,288 386.4,294.4 390.4,277 394.4,275 395.4,284 399.4,285.4 402,283.6 405.4,277 409.4,281.4 412.4,278.6 424.4,281.4 427.4,277 431.4,273 433.4,300.6 435.4,281.4 439.4,286 442.4,295.4 446,284 450.4,288.6 457.4,271.4 461.4,291.4 468.4,275.4 475.4,274.6 478.6,264 482.6,263.4 486.6,264.6 490.6,266 494.4,270.6 498.4,268.6 502,271.4 503.4,278.6 505.4,286 510,273 517.4,278.6 525.4,285.4 528.6,281.4 532.6,275.4 536.6,273.4 540.6,269.4 544,267 547.4,271.4 551.4,263 555.4,262 558.6,266.6 562.4,241 570.4,267.4 573.4,264 578.4,265 582.4,274.6 585.4,266 589.4,255 593.4,258.6 596.4,259.4 600.4,256 608,268 612,270.6 616,270.6 619.4,260.6 623.4,261 626.6,263.4 630.6,268.6 635,278.6 638.4,266.6 642.6,267.4 646.4,260 647,277.4 650.6,269.4 653.4,272.6 657.4,272 666.6,280.6 670.6,278 674.6,282.4 678,283 681.4,291 682.6,288 685,284.4 689,284.4 692.6,287.6 696,260 700.6,259.6 707,235 711.4,266.4 715.4,242 716.6,257.6 718.6,254 722.6,259.6 726.6,259.6 730,250.4 733.4,245.6 741.4,233 746,278.4 750,280.4 754,277 755.4,283.6 757.4,277 761.4,274 769.4,280.4 772.6,290.4 780,287.6 784,286.4 787.4,284.4 789.4,290.4 791.4,286 795,281.6 798.6,276.4 802.6,264 813.4,257 817.4,258.4 821.4,251 822.6,254.4" fill="none" stroke="#bf00bf" stroke-width="2" stroke-linejoin="round" stroke-linecap="square"/>
<g fill="#bf00bf"><circle cx="101" cy="272" r="2.65"/><circle cx="104" cy="277.4" r="2.65"/><circle cx="110" cy="275" r="2.65"/><circle cx="115" cy="281.4" r="2.65"/><circle cx="121" cy="282.6" r="2.65"/><circle cx="125" cy="271.6" r="2.65"/><circle cx="129.4" cy="265.4" r="2.65"/><circle cx="133.4" cy="272.6" r="2.65"/><circle cx="137" cy="267" r="2.65"/><circle cx="141" cy="272.6" r="2.65"/><circle cx="145.4" cy="271.4" r="2.65"/><circle cx="148.6" cy="276" r="2.65"/><circle cx="152" cy="271.4" r="2.65"/><circle cx="151" cy="277.4" r="2.65"/><circle cx="156.6" cy="287.4" r="2.65"/><circle cx="160" cy="278.6" r="2.65"/><circle cx="163.4" cy="273.4" r="2.65"/><circle cx="167.4" cy="292.6" r="2.65"/><circle cx="172" cy="273.4" r="2.65"/><circle cx="176.6" cy="273.4" r="2.65"/><circle cx="184" cy="251" r="2.65"/><circle cx="186" cy="244.6" r="2.65"/><circle cx="188" cy="254.6" r="2.65"/><circle cx="193.4" cy="239.4" r="2.65"/><circle cx="199" cy="262.6" r="2.65"/><circle cx="203" cy="245.4" r="2.65"/><circle cx="207.4" cy="244" r="2.65"/><circle cx="211.4" cy="238.6" r="2.65"/><circle cx="214.6" cy="240.6" r="2.65"/><circle cx="218.6" cy="234" r="2.65"/><circle cx="222.6" cy="237.4" r="2.65"/><circle cx="225.4" cy="241.4" r="2.65"/><circle cx="231.4" cy="256.6" r="2.65"/><circle cx="235.6" cy="251" r="2.65"/><circle cx="239.4" cy="261.6" r="2.65"/><circle cx="243" cy="256.6" r="2.65"/><circle cx="246.6" cy="255" r="2.65"/><circle cx="250.6" cy="249.4" r="2.65"/><circle cx="254.6" cy="250.6" r="2.65"/><circle cx="258.6" cy="245" r="2.65"/><circle cx="261.4" cy="242.6" r="2.65"/><circle cx="267.4" cy="251.6" r="2.65"/><circle cx="270.6" cy="254.6" r="2.65"/><circle cx="274.6" cy="251" r="2.65"/><circle cx="278.6" cy="249" r="2.65"/><circle cx="282.6" cy="252.6" r="2.65"/><circle cx="286" cy="252.6" r="2.65"/><circle cx="289.4" cy="261.4" r="2.65"/><circle cx="293.4" cy="252" r="2.65"/><circle cx="297.4" cy="263.4" r="2.65"/><circle cx="304.4" cy="256.6" r="2.65"/><circle cx="308.4" cy="267.4" r="2.65"/><circle cx="312" cy="257" r="2.65"/><circle cx="315.4" cy="254" r="2.65"/><circle cx="319.4" cy="259.4" r="2.65"/><circle cx="323.4" cy="263.4" r="2.65"/><circle cx="326" cy="276" r="2.65"/><circle cx="328.6" cy="269" r="2.65"/><circle cx="330.6" cy="258" r="2.65"/><circle cx="334.6" cy="266.6" r="2.65"/><circle cx="338" cy="264.6" r="2.65"/><circle cx="341.4" cy="275.4" r="2.65"/><circle cx="345.4" cy="263" r="2.65"/><circle cx="349.4" cy="281.4" r="2.65"/><circle cx="353.4" cy="256" r="2.65"/><circle cx="356.6" cy="268.6" r="2.65"/><circle cx="360.6" cy="258.6" r="2.65"/><circle cx="362.6" cy="275.4" r="2.65"/><circle cx="364.6" cy="285.4" r="2.65"/><circle cx="368.6" cy="283.4" r="2.65"/><circle cx="371.4" cy="278.6" r="2.65"/><circle cx="375.4" cy="271.4" r="2.65"/><circle cx="379.4" cy="288" r="2.65"/><circle cx="386.4" cy="294.4" r="2.65"/><circle cx="390.4" cy="277" r="2.65"/><circle cx="394.4" cy="275" r="2.65"/><circle cx="395.4" cy="284" r="2.65"/><circle cx="399.4" cy="285.4" r="2.65"/><circle cx="402" cy="283.6" r="2.65"/><circle cx="405.4" cy="277" r="2.65"/><circle cx="409.4" cy="281.4" r="2.65"/><circle cx="412.4" cy="278.6" r="2.65"/><circle cx="424.4" cy="281.4" r="2.65"/><circle cx="427.4" cy="277" r="2.65"/><circle cx="431.4" cy="273" r="2.65"/><circle cx="433.4" cy="300.6" r="2.65"/><circle cx="435.4" cy="281.4" r="2.65"/><circle cx="439.4" cy="286" r="2.65"/><circle cx="442.4" cy="295.4" r="2.65"/><circle cx="446" cy="284" r="2.65"/><circle cx="450.4" cy="288.6" r="2.65"/><circle cx="457.4" cy="271.4" r="2.65"/><circle cx="461.4" cy="291.4" r="2.65"/><circle cx="468.4" cy="275.4" r="2.65"/><circle cx="475.4" cy="274.6" r="2.65"/><circle cx="478.6" cy="264" r="2.65"/><circle cx="482.6" cy="263.4" r="2.65"/><circle cx="486.6" cy="264.6" r="2.65"/><circle cx="490.6" cy="266" r="2.65"/><circle cx="494.4" cy="270.6" r="2.65"/><circle cx="498.4" cy="268.6" r="2.65"/><circle cx="502" cy="271.4" r="2.65"/><circle cx="503.4" cy="278.6" r="2.65"/><circle cx="505.4" cy="286" r="2.65"/><circle cx="510" cy="273" r="2.65"/><circle cx="517.4" cy="278.6" r="2.65"/><circle cx="525.4" cy="285.4" r="2.65"/><circle cx="528.6" cy="281.4" r="2.65"/><circle cx="532.6" cy="275.4" r="2.65"/><circle cx="536.6" cy="273.4" r="2.65"/><circle cx="540.6" cy="269.4" r="2.65"/><circle cx="544" cy="267" r="2.65"/><circle cx="547.4" cy="271.4" r="2.65"/><circle cx="551.4" cy="263" r="2.65"/><circle cx="555.4" cy="262" r="2.65"/><circle cx="558.6" cy="266.6" r="2.65"/><circle cx="562.4" cy="241" r="2.65"/><circle cx="570.4" cy="267.4" r="2.65"/><circle cx="573.4" cy="264" r="2.65"/><circle cx="578.4" cy="265" r="2.65"/><circle cx="582.4" cy="274.6" r="2.65"/><circle cx="585.4" cy="266" r="2.65"/><circle cx="589.4" cy="255" r="2.65"/><circle cx="593.4" cy="258.6" r="2.65"/><circle cx="596.4" cy="259.4" r="2.65"/><circle cx="600.4" cy="256" r="2.65"/><circle cx="608" cy="268" r="2.65"/><circle cx="612" cy="270.6" r="2.65"/><circle cx="616" cy="270.6" r="2.65"/><circle cx="619.4" cy="260.6" r="2.65"/><circle cx="623.4" cy="261" r="2.65"/><circle cx="626.6" cy="263.4" r="2.65"/><circle cx="630.6" cy="268.6" r="2.65"/><circle cx="635" cy="278.6" r="2.65"/><circle cx="638.4" cy="266.6" r="2.65"/><circle cx="642.6" cy="267.4" r="2.65"/><circle cx="646.4" cy="260" r="2.65"/><circle cx="647" cy="277.4" r="2.65"/><circle cx="650.6" cy="269.4" r="2.65"/><circle cx="653.4" cy="272.6" r="2.65"/><circle cx="657.4" cy="272" r="2.65"/><circle cx="666.6" cy="280.6" r="2.65"/><circle cx="670.6" cy="278" r="2.65"/><circle cx="674.6" cy="282.4" r="2.65"/><circle cx="678" cy="283" r="2.65"/><circle cx="681.4" cy="291" r="2.65"/><circle cx="682.6" cy="288" r="2.65"/><circle cx="685" cy="284.4" r="2.65"/><circle cx="689" cy="284.4" r="2.65"/><circle cx="692.6" cy="287.6" r="2.65"/><circle cx="696" cy="260" r="2.65"/><circle cx="700.6" cy="259.6" r="2.65"/><circle cx="707" cy="235" r="2.65"/><circle cx="711.4" cy="266.4" r="2.65"/><circle cx="715.4" cy="242" r="2.65"/><circle cx="716.6" cy="257.6" r="2.65"/><circle cx="718.6" cy="254" r="2.65"/><circle cx="722.6" cy="259.6" r="2.65"/><circle cx="726.6" cy="259.6" r="2.65"/><circle cx="730" cy="250.4" r="2.65"/><circle cx="733.4" cy="245.6" r="2.65"/><circle cx="741.4" cy="233" r="2.65"/><circle cx="746" cy="278.4" r="2.65"/><circle cx="750" cy="280.4" r="2.65"/><circle cx="754" cy="277" r="2.65"/><circle cx="755.4" cy="283.6" r="2.65"/><circle cx="757.4" cy="277" r="2.65"/><circle cx="761.4" cy="274" r="2.65"/><circle cx="769.4" cy="280.4" r="2.65"/><circle cx="772.6" cy="290.4" r="2.65"/><circle cx="780" cy="287.6" r="2.65"/><circle cx="784" cy="286.4" r="2.65"/><circle cx="787.4" cy="284.4" r="2.65"/><circle cx="789.4" cy="290.4" r="2.65"/><circle cx="791.4" cy="286" r="2.65"/><circle cx="795" cy="281.6" r="2.65"/><circle cx="798.6" cy="276.4" r="2.65"/><circle cx="802.6" cy="264" r="2.65"/><circle cx="813.4" cy="257" r="2.65"/><circle cx="817.4" cy="258.4" r="2.65"/><circle cx="821.4" cy="251" r="2.65"/><circle cx="822.6" cy="254.4" r="2.65"/></g>
<polyline points="101.7,453 105.8,452.6 110,453.7 113.8,454.5 117.5,456 120.5,456.6 123.5,456 126.5,453.7 129.5,452.7 133,452.8 136.5,453.1 140,453.7 144,453.9 148,454.2 152,453.3 155.5,452.7 159,453.7 162.5,453.3 167.7,456.7 173,453 176.8,454 180.5,454.2 183.5,453.8 186.5,452.2 189.8,451.5 193.2,450.7 196.6,452.8 200,453.3 203.5,452.2 206.9,451.4 210.4,450.7 214.2,449.1 218,448.5 221.7,449.8 225.4,450 229.2,450.7 233,451.5 237.2,451.4 241.5,452.2 245.2,450.9 249,450.7 252.5,450.9 256,450.4 259.5,450 263.2,451.3 267,451.8 271,452 275,452.6 279,453 282.5,452.5 286,453.6 289.5,453.3 293,452.8 296.5,454 300,454.5 303.5,455.1 307,455 310.5,454.8 314.5,454.6 318.5,455.3 322.5,456.3 326.2,457.4 330,457.2 334.5,456.5 339,455.2 342.7,454.9 346.4,453.3 349.4,458.7 352.9,458.9 356.5,457.6 360,457.2 364,457.7 368,457.3 372,456.7 375.4,457 378.7,457.6 382,457.7 385.4,459 391,456 395.5,456.6 400,457.5 403.5,458.3 407,456.8 410.5,457.5 414.5,458.1 418.5,457.8 422.5,459 426,458.1 429.5,459.1 433,458.7 437.5,458.5 442,459.3 446.5,455.7 450.2,455.8 454,457.5 457.8,457.8 461.5,459.3 464.5,457.5 467.5,455.2 471,455.5 474.5,454.7 478,455.7 482,454.5 486,455.2 490,453.7 494.5,453.9 499,455.2 502,456.1 505,456.7 508.5,455.7 511.9,455.5 515.4,454.2 519.9,455.3 524.4,456 530,452.7 533,451.7 536,449.7 540.5,450.2 545,450.5 548.4,449.5 551.7,449.7 557,452.7 562.2,451.7 565.6,452.6 569,454.7 573.5,454.4 578,455.7 582.5,455.5 587,454.2 590.5,453.4 594,453.1 597.5,453.8 601,455.3 604.5,454.5 608,455.7 612,456.7 616,455.5 620,456.5 624.5,456.3 629,456.2 633.5,454.7 638,454.2 642.5,455.5 647,455.7 651,456.7 655,457.5 659,458 662.5,457.7 665.9,457.1 669.4,455.7 675,458 679.5,457.7 684,458 688.5,457.4 693,456.5 696.8,455.3 700.5,454.2 703.9,451.6 707.2,450.5 711,454.2 715.5,454.8 720,454.2 724,454.2 728,454.5 732,453.8 736.5,452.7 741,452.7 745.5,457.2 749,457.4 752.5,457.5 756,457.7 760.5,457.9 765,457.2 768.8,457.6 772.5,459.5 776.2,458.6 780,458.3 784.5,458.9 789,459.5 792.5,458.3 795.9,458.8 799.4,458.3 803.2,458.2 807,457.2 809.9,457.1 812.7,457.3 816,457.6 819.4,457.5 822.7,457.3" fill="none" stroke="#ffa500" stroke-width="2" stroke-linejoin="round" stroke-linecap="square"/>
<g fill="#ffa500"><circle cx="101.7" cy="453" r="2.65"/><circle cx="105.8" cy="452.6" r="2.65"/><circle cx="110" cy="453.7" r="2.65"/><circle cx="113.8" cy="454.5" r="2.65"/><circle cx="117.5" cy="456" r="2.65"/><circle cx="120.5" cy="456.6" r="2.65"/><circle cx="123.5" cy="456" r="2.65"/><circle cx="126.5" cy="453.7" r="2.65"/><circle cx="129.5" cy="452.7" r="2.65"/><circle cx="133" cy="452.8" r="2.65"/><circle cx="136.5" cy="453.1" r="2.65"/><circle cx="140" cy="453.7" r="2.65"/><circle cx="144" cy="453.9" r="2.65"/><circle cx="148" cy="454.2" r="2.65"/><circle cx="152" cy="453.3" r="2.65"/><circle cx="155.5" cy="452.7" r="2.65"/><circle cx="159" cy="453.7" r="2.65"/><circle cx="162.5" cy="453.3" r="2.65"/><circle cx="167.7" cy="456.7" r="2.65"/><circle cx="173" cy="453" r="2.65"/><circle cx="176.8" cy="454" r="2.65"/><circle cx="180.5" cy="454.2" r="2.65"/><circle cx="183.5" cy="453.8" r="2.65"/><circle cx="186.5" cy="452.2" r="2.65"/><circle cx="189.8" cy="451.5" r="2.65"/><circle cx="193.2" cy="450.7" r="2.65"/><circle cx="196.6" cy="452.8" r="2.65"/><circle cx="200" cy="453.3" r="2.65"/><circle cx="203.5" cy="452.2" r="2.65"/><circle cx="206.9" cy="451.4" r="2.65"/><circle cx="210.4" cy="450.7" r="2.65"/><circle cx="214.2" cy="449.1" r="2.65"/><circle cx="218" cy="448.5" r="2.65"/><circle cx="221.7" cy="449.8" r="2.65"/><circle cx="225.4" cy="450" r="2.65"/><circle cx="229.2" cy="450.7" r="2.65"/><circle cx="233" cy="451.5" r="2.65"/><circle cx="237.2" cy="451.4" r="2.65"/><circle cx="241.5" cy="452.2" r="2.65"/><circle cx="245.2" cy="450.9" r="2.65"/><circle cx="249" cy="450.7" r="2.65"/><circle cx="252.5" cy="450.9" r="2.65"/><circle cx="256" cy="450.4" r="2.65"/><circle cx="259.5" cy="450" r="2.65"/><circle cx="263.2" cy="451.3" r="2.65"/><circle cx="267" cy="451.8" r="2.65"/><circle cx="271" cy="452" r="2.65"/><circle cx="275" cy="452.6" r="2.65"/><circle cx="279" cy="453" r="2.65"/><circle cx="282.5" cy="452.5" r="2.65"/><circle cx="286" cy="453.6" r="2.65"/><circle cx="289.5" cy="453.3" r="2.65"/><circle cx="293" cy="452.8" r="2.65"/><circle cx="296.5" cy="454" r="2.65"/><circle cx="300" cy="454.5" r="2.65"/><circle cx="303.5" cy="455.1" r="2.65"/><circle cx="307" cy="455" r="2.65"/><circle cx="310.5" cy="454.8" r="2.65"/><circle cx="314.5" cy="454.6" r="2.65"/><circle cx="318.5" cy="455.3" r="2.65"/><circle cx="322.5" cy="456.3" r="2.65"/><circle cx="326.2" cy="457.4" r="2.65"/><circle cx="330" cy="457.2" r="2.65"/><circle cx="334.5" cy="456.5" r="2.65"/><circle cx="339" cy="455.2" r="2.65"/><circle cx="342.7" cy="454.9" r="2.65"/><circle cx="346.4" cy="453.3" r="2.65"/><circle cx="349.4" cy="458.7" r="2.65"/><circle cx="352.9" cy="458.9" r="2.65"/><circle cx="356.5" cy="457.6" r="2.65"/><circle cx="360" cy="457.2" r="2.65"/><circle cx="364" cy="457.7" r="2.65"/><circle cx="368" cy="457.3" r="2.65"/><circle cx="372" cy="456.7" r="2.65"/><circle cx="375.4" cy="457" r="2.65"/><circle cx="378.7" cy="457.6" r="2.65"/><circle cx="382" cy="457.7" r="2.65"/><circle cx="385.4" cy="459" r="2.65"/><circle cx="391" cy="456" r="2.65"/><circle cx="395.5" cy="456.6" r="2.65"/><circle cx="400" cy="457.5" r="2.65"/><circle cx="403.5" cy="458.3" r="2.65"/><circle cx="407" cy="456.8" r="2.65"/><circle cx="410.5" cy="457.5" r="2.65"/><circle cx="414.5" cy="458.1" r="2.65"/><circle cx="418.5" cy="457.8" r="2.65"/><circle cx="422.5" cy="459" r="2.65"/><circle cx="426" cy="458.1" r="2.65"/><circle cx="429.5" cy="459.1" r="2.65"/><circle cx="433" cy="458.7" r="2.65"/><circle cx="437.5" cy="458.5" r="2.65"/><circle cx="442" cy="459.3" r="2.65"/><circle cx="446.5" cy="455.7" r="2.65"/><circle cx="450.2" cy="455.8" r="2.65"/><circle cx="454" cy="457.5" r="2.65"/><circle cx="457.8" cy="457.8" r="2.65"/><circle cx="461.5" cy="459.3" r="2.65"/><circle cx="464.5" cy="457.5" r="2.65"/><circle cx="467.5" cy="455.2" r="2.65"/><circle cx="471" cy="455.5" r="2.65"/><circle cx="474.5" cy="454.7" r="2.65"/><circle cx="478" cy="455.7" r="2.65"/><circle cx="482" cy="454.5" r="2.65"/><circle cx="486" cy="455.2" r="2.65"/><circle cx="490" cy="453.7" r="2.65"/><circle cx="494.5" cy="453.9" r="2.65"/><circle cx="499" cy="455.2" r="2.65"/><circle cx="502" cy="456.1" r="2.65"/><circle cx="505" cy="456.7" r="2.65"/><circle cx="508.5" cy="455.7" r="2.65"/><circle cx="511.9" cy="455.5" r="2.65"/><circle cx="515.4" cy="454.2" r="2.65"/><circle cx="519.9" cy="455.3" r="2.65"/><circle cx="524.4" cy="456" r="2.65"/><circle cx="530" cy="452.7" r="2.65"/><circle cx="533" cy="451.7" r="2.65"/><circle cx="536" cy="449.7" r="2.65"/><circle cx="540.5" cy="450.2" r="2.65"/><circle cx="545" cy="450.5" r="2.65"/><circle cx="548.4" cy="449.5" r="2.65"/><circle cx="551.7" cy="449.7" r="2.65"/><circle cx="557" cy="452.7" r="2.65"/><circle cx="562.2" cy="451.7" r="2.65"/><circle cx="565.6" cy="452.6" r="2.65"/><circle cx="569" cy="454.7" r="2.65"/><circle cx="573.5" cy="454.4" r="2.65"/><circle cx="578" cy="455.7" r="2.65"/><circle cx="582.5" cy="455.5" r="2.65"/><circle cx="587" cy="454.2" r="2.65"/><circle cx="590.5" cy="453.4" r="2.65"/><circle cx="594" cy="453.1" r="2.65"/><circle cx="597.5" cy="453.8" r="2.65"/><circle cx="601" cy="455.3" r="2.65"/><circle cx="604.5" cy="454.5" r="2.65"/><circle cx="608" cy="455.7" r="2.65"/><circle cx="612" cy="456.7" r="2.65"/><circle cx="616" cy="455.5" r="2.65"/><circle cx="620" cy="456.5" r="2.65"/><circle cx="624.5" cy="456.3" r="2.65"/><circle cx="629" cy="456.2" r="2.65"/><circle cx="633.5" cy="454.7" r="2.65"/><circle cx="638" cy="454.2" r="2.65"/><circle cx="642.5" cy="455.5" r="2.65"/><circle cx="647" cy="455.7" r="2.65"/><circle cx="651" cy="456.7" r="2.65"/><circle cx="655" cy="457.5" r="2.65"/><circle cx="659" cy="458" r="2.65"/><circle cx="662.5" cy="457.7" r="2.65"/><circle cx="665.9" cy="457.1" r="2.65"/><circle cx="669.4" cy="455.7" r="2.65"/><circle cx="675" cy="458" r="2.65"/><circle cx="679.5" cy="457.7" r="2.65"/><circle cx="684" cy="458" r="2.65"/><circle cx="688.5" cy="457.4" r="2.65"/><circle cx="693" cy="456.5" r="2.65"/><circle cx="696.8" cy="455.3" r="2.65"/><circle cx="700.5" cy="454.2" r="2.65"/><circle cx="703.9" cy="451.6" r="2.65"/><circle cx="707.2" cy="450.5" r="2.65"/><circle cx="711" cy="454.2" r="2.65"/><circle cx="715.5" cy="454.8" r="2.65"/><circle cx="720" cy="454.2" r="2.65"/><circle cx="724" cy="454.2" r="2.65"/><circle cx="728" cy="454.5" r="2.65"/><circle cx="732" cy="453.8" r="2.65"/><circle cx="736.5" cy="452.7" r="2.65"/><circle cx="741" cy="452.7" r="2.65"/><circle cx="745.5" cy="457.2" r="2.65"/><circle cx="749" cy="457.4" r="2.65"/><circle cx="752.5" cy="457.5" r="2.65"/><circle cx="756" cy="457.7" r="2.65"/><circle cx="760.5" cy="457.9" r="2.65"/><circle cx="765" cy="457.2" r="2.65"/><circle cx="768.8" cy="457.6" r="2.65"/><circle cx="772.5" cy="459.5" r="2.65"/><circle cx="776.2" cy="458.6" r="2.65"/><circle cx="780" cy="458.3" r="2.65"/><circle cx="784.5" cy="458.9" r="2.65"/><circle cx="789" cy="459.5" r="2.65"/><circle cx="792.5" cy="458.3" r="2.65"/><circle cx="795.9" cy="458.8" r="2.65"/><circle cx="799.4" cy="458.3" r="2.65"/><circle cx="803.2" cy="458.2" r="2.65"/><circle cx="807" cy="457.2" r="2.65"/><circle cx="809.9" cy="457.1" r="2.65"/><circle cx="812.7" cy="457.3" r="2.65"/><circle cx="816" cy="457.6" r="2.65"/><circle cx="819.4" cy="457.5" r="2.65"/><circle cx="822.7" cy="457.3" r="2.65"/></g>
<polyline points="101.7,443.2 105.8,443.1 110,444 113.8,444.5 117.5,445.5 122,446.7 125,445.8 128,443.2 132.5,442.2 137,441.7 141.5,442 146,442.5 149,441.6 152,442.2 156.5,445.5 159.5,444.1 162.5,443.7 167,447.3 170,444.6 173,443.2 178.2,442.5 181.6,441 185,438 189.5,438.7 193.2,435.7 196.2,438 199.2,439.5 204.5,434.2 208.2,433.6 212,431.7 215,431.1 218,428.7 221,429.2 224,429.3 227,431 230,431.2 235.2,430.5 240.5,433.2 244.8,433 249,432.7 253.5,431.8 258,431.2 262.5,432.4 267,432 270.8,432 274.5,430.5 279,431.7 283.5,431.2 287.2,431.4 291,431.7 294,433.4 297,434.2 301.5,435.2 306,436.5 310.5,436.6 315,435 318.5,437.3 322,437.6 325.5,439.5 329,440.8 332.5,439.9 336,441 340.5,440.3 345,441 348,439.9 351,438 355.4,441 360,438.7 364.4,443.2 368.2,443.2 372,444 376.5,444.8 381,445.5 384,444.6 387,443.2 391,442.5 395.5,442.4 400,444 404.5,443.3 409,441.7 413.5,441.7 418,442.5 422.5,440.9 427,439.5 430,440.7 433,442.5 436,442.2 439,441 443.5,440.7 448,439.5 452.5,436.9 457,435 461.5,439.2 465.2,437.1 469,436.5 472,436.5 475,437.2 478,435.3 481,433.8 485.5,433.2 490,434.2 494.5,433.8 499,434.7 502,437.2 505,438.7 508,437.6 511,435.7 514.7,436.8 518.4,436.2 521.4,438.3 524.4,438.7 527.4,437.8 530.4,435.5 534,434.1 537.5,433.2 541.2,431.8 545,431.7 548.8,429.5 552.5,428 555.9,426.4 559.2,425 562.2,419 566,423.5 570.5,425 574.2,424.2 578,427.2 582.5,430.2 586.2,429.5 590,428.7 593.5,428.9 597,428.8 600.5,429.2 604.2,432.2 608,434 611.8,434.4 615.5,435.5 618.5,434.5 621.5,433.7 625.2,435.6 629,436.2 632.8,437.9 636.5,438.5 641,437.7 645.4,437.7 649.9,438.7 654.4,440.7 657.4,442 660.4,442.2 663.4,442.8 666.4,445.2 670.2,443.8 674,443.7 677.3,444 680.7,444.3 684,444.5 688.1,444.6 692.2,446 696,442.2 699.8,439.5 703.5,438.5 707.2,435.5 711,441.5 714.7,437.7 718.9,438.7 723,440.7 727.5,440.8 732,440 736.5,439.5 741,439.2 745.5,446 749,446.6 752.5,446 756,445.2 760.5,446.5 765,446 768.8,446.8 772.5,449.3 775.9,448.5 779.2,447.9 782.6,448.4 786,448.2 790.5,449.1 795,450.5 798,449.7 801,450.5 805.5,448.3 810,446 813.7,443.8 817.4,443 822,442" fill="none" stroke="#ffb6c1" stroke-width="2" stroke-linejoin="round" stroke-linecap="square"/>
<g fill="#ffb6c1"><circle cx="101.7" cy="443.2" r="2.65"/><circle cx="105.8" cy="443.1" r="2.65"/><circle cx="110" cy="444" r="2.65"/><circle cx="113.8" cy="444.5" r="2.65"/><circle cx="117.5" cy="445.5" r="2.65"/><circle cx="122" cy="446.7" r="2.65"/><circle cx="125" cy="445.8" r="2.65"/><circle cx="128" cy="443.2" r="2.65"/><circle cx="132.5" cy="442.2" r="2.65"/><circle cx="137" cy="441.7" r="2.65"/><circle cx="141.5" cy="442" r="2.65"/><circle cx="146" cy="442.5" r="2.65"/><circle cx="149" cy="441.6" r="2.65"/><circle cx="152" cy="442.2" r="2.65"/><circle cx="156.5" cy="445.5" r="2.65"/><circle cx="159.5" cy="444.1" r="2.65"/><circle cx="162.5" cy="443.7" r="2.65"/><circle cx="167" cy="447.3" r="2.65"/><circle cx="170" cy="444.6" r="2.65"/><circle cx="173" cy="443.2" r="2.65"/><circle cx="178.2" cy="442.5" r="2.65"/><circle cx="181.6" cy="441" r="2.65"/><circle cx="185" cy="438" r="2.65"/><circle cx="189.5" cy="438.7" r="2.65"/><circle cx="193.2" cy="435.7" r="2.65"/><circle cx="196.2" cy="438" r="2.65"/><circle cx="199.2" cy="439.5" r="2.65"/><circle cx="204.5" cy="434.2" r="2.65"/><circle cx="208.2" cy="433.6" r="2.65"/><circle cx="212" cy="431.7" r="2.65"/><circle cx="215" cy="431.1" r="2.65"/><circle cx="218" cy="428.7" r="2.65"/><circle cx="221" cy="429.2" r="2.65"/><circle cx="224" cy="429.3" r="2.65"/><circle cx="227" cy="431" r="2.65"/><circle cx="230" cy="431.2" r="2.65"/><circle cx="235.2" cy="430.5" r="2.65"/><circle cx="240.5" cy="433.2" r="2.65"/><circle cx="244.8" cy="433" r="2.65"/><circle cx="249" cy="432.7" r="2.65"/><circle cx="253.5" cy="431.8" r="2.65"/><circle cx="258" cy="431.2" r="2.65"/><circle cx="262.5" cy="432.4" r="2.65"/><circle cx="267" cy="432" r="2.65"/><circle cx="270.8" cy="432" r="2.65"/><circle cx="274.5" cy="430.5" r="2.65"/><circle cx="279" cy="431.7" r="2.65"/><circle cx="283.5" cy="431.2" r="2.65"/><circle cx="287.2" cy="431.4" r="2.65"/><circle cx="291" cy="431.7" r="2.65"/><circle cx="294" cy="433.4" r="2.65"/><circle cx="297" cy="434.2" r="2.65"/><circle cx="301.5" cy="435.2" r="2.65"/><circle cx="306" cy="436.5" r="2.65"/><circle cx="310.5" cy="436.6" r="2.65"/><circle cx="315" cy="435" r="2.65"/><circle cx="318.5" cy="437.3" r="2.65"/><circle cx="322" cy="437.6" r="2.65"/><circle cx="325.5" cy="439.5" r="2.65"/><circle cx="329" cy="440.8" r="2.65"/><circle cx="332.5" cy="439.9" r="2.65"/><circle cx="336" cy="441" r="2.65"/><circle cx="340.5" cy="440.3" r="2.65"/><circle cx="345" cy="441" r="2.65"/><circle cx="348" cy="439.9" r="2.65"/><circle cx="351" cy="438" r="2.65"/><circle cx="355.4" cy="441" r="2.65"/><circle cx="360" cy="438.7" r="2.65"/><circle cx="364.4" cy="443.2" r="2.65"/><circle cx="368.2" cy="443.2" r="2.65"/><circle cx="372" cy="444" r="2.65"/><circle cx="376.5" cy="444.8" r="2.65"/><circle cx="381" cy="445.5" r="2.65"/><circle cx="384" cy="444.6" r="2.65"/><circle cx="387" cy="443.2" r="2.65"/><circle cx="391" cy="442.5" r="2.65"/><circle cx="395.5" cy="442.4" r="2.65"/><circle cx="400" cy="444" r="2.65"/><circle cx="404.5" cy="443.3" r="2.65"/><circle cx="409" cy="441.7" r="2.65"/><circle cx="413.5" cy="441.7" r="2.65"/><circle cx="418" cy="442.5" r="2.65"/><circle cx="422.5" cy="440.9" r="2.65"/><circle cx="427" cy="439.5" r="2.65"/><circle cx="430" cy="440.7" r="2.65"/><circle cx="433" cy="442.5" r="2.65"/><circle cx="436" cy="442.2" r="2.65"/><circle cx="439" cy="441" r="2.65"/><circle cx="443.5" cy="440.7" r="2.65"/><circle cx="448" cy="439.5" r="2.65"/><circle cx="452.5" cy="436.9" r="2.65"/><circle cx="457" cy="435" r="2.65"/><circle cx="461.5" cy="439.2" r="2.65"/><circle cx="465.2" cy="437.1" r="2.65"/><circle cx="469" cy="436.5" r="2.65"/><circle cx="472" cy="436.5" r="2.65"/><circle cx="475" cy="437.2" r="2.65"/><circle cx="478" cy="435.3" r="2.65"/><circle cx="481" cy="433.8" r="2.65"/><circle cx="485.5" cy="433.2" r="2.65"/><circle cx="490" cy="434.2" r="2.65"/><circle cx="494.5" cy="433.8" r="2.65"/><circle cx="499" cy="434.7" r="2.65"/><circle cx="502" cy="437.2" r="2.65"/><circle cx="505" cy="438.7" r="2.65"/><circle cx="508" cy="437.6" r="2.65"/><circle cx="511" cy="435.7" r="2.65"/><circle cx="514.7" cy="436.8" r="2.65"/><circle cx="518.4" cy="436.2" r="2.65"/><circle cx="521.4" cy="438.3" r="2.65"/><circle cx="524.4" cy="438.7" r="2.65"/><circle cx="527.4" cy="437.8" r="2.65"/><circle cx="530.4" cy="435.5" r="2.65"/><circle cx="534" cy="434.1" r="2.65"/><circle cx="537.5" cy="433.2" r="2.65"/><circle cx="541.2" cy="431.8" r="2.65"/><circle cx="545" cy="431.7" r="2.65"/><circle cx="548.8" cy="429.5" r="2.65"/><circle cx="552.5" cy="428" r="2.65"/><circle cx="555.9" cy="426.4" r="2.65"/><circle cx="559.2" cy="425" r="2.65"/><circle cx="562.2" cy="419" r="2.65"/><circle cx="566" cy="423.5" r="2.65"/><circle cx="570.5" cy="425" r="2.65"/><circle cx="574.2" cy="424.2" r="2.65"/><circle cx="578" cy="427.2" r="2.65"/><circle cx="582.5" cy="430.2" r="2.65"/><circle cx="586.2" cy="429.5" r="2.65"/><circle cx="590" cy="428.7" r="2.65"/><circle cx="593.5" cy="428.9" r="2.65"/><circle cx="597" cy="428.8" r="2.65"/><circle cx="600.5" cy="429.2" r="2.65"/><circle cx="604.2" cy="432.2" r="2.65"/><circle cx="608" cy="434" r="2.65"/><circle cx="611.8" cy="434.4" r="2.65"/><circle cx="615.5" cy="435.5" r="2.65"/><circle cx="618.5" cy="434.5" r="2.65"/><circle cx="621.5" cy="433.7" r="2.65"/><circle cx="625.2" cy="435.6" r="2.65"/><circle cx="629" cy="436.2" r="2.65"/><circle cx="632.8" cy="437.9" r="2.65"/><circle cx="636.5" cy="438.5" r="2.65"/><circle cx="641" cy="437.7" r="2.65"/><circle cx="645.4" cy="437.7" r="2.65"/><circle cx="649.9" cy="438.7" r="2.65"/><circle cx="654.4" cy="440.7" r="2.65"/><circle cx="657.4" cy="442" r="2.65"/><circle cx="660.4" cy="442.2" r="2.65"/><circle cx="663.4" cy="442.8" r="2.65"/><circle cx="666.4" cy="445.2" r="2.65"/><circle cx="670.2" cy="443.8" r="2.65"/><circle cx="674" cy="443.7" r="2.65"/><circle cx="677.3" cy="444" r="2.65"/><circle cx="680.7" cy="444.3" r="2.65"/><circle cx="684" cy="444.5" r="2.65"/><circle cx="688.1" cy="444.6" r="2.65"/><circle cx="692.2" cy="446" r="2.65"/><circle cx="696" cy="442.2" r="2.65"/><circle cx="699.8" cy="439.5" r="2.65"/><circle cx="703.5" cy="438.5" r="2.65"/><circle cx="707.2" cy="435.5" r="2.65"/><circle cx="711" cy="441.5" r="2.65"/><circle cx="714.7" cy="437.7" r="2.65"/><circle cx="718.9" cy="438.7" r="2.65"/><circle cx="723" cy="440.7" r="2.65"/><circle cx="727.5" cy="440.8" r="2.65"/><circle cx="732" cy="440" r="2.65"/><circle cx="736.5" cy="439.5" r="2.65"/><circle cx="741" cy="439.2" r="2.65"/><circle cx="745.5" cy="446" r="2.65"/><circle cx="749" cy="446.6" r="2.65"/><circle cx="752.5" cy="446" r="2.65"/><circle cx="756" cy="445.2" r="2.65"/><circle cx="760.5" cy="446.5" r="2.65"/><circle cx="765" cy="446" r="2.65"/><circle cx="768.8" cy="446.8" r="2.65"/><circle cx="772.5" cy="449.3" r="2.65"/><circle cx="775.9" cy="448.5" r="2.65"/><circle cx="779.2" cy="447.9" r="2.65"/><circle cx="782.6" cy="448.4" r="2.65"/><circle cx="786" cy="448.2" r="2.65"/><circle cx="790.5" cy="449.1" r="2.65"/><circle cx="795" cy="450.5" r="2.65"/><circle cx="798" cy="449.7" r="2.65"/><circle cx="801" cy="450.5" r="2.65"/><circle cx="805.5" cy="448.3" r="2.65"/><circle cx="810" cy="446" r="2.65"/><circle cx="813.7" cy="443.8" r="2.65"/><circle cx="817.4" cy="443" r="2.65"/><circle cx="822" cy="442" r="2.65"/></g>
<polyline points="101.7,467.2 105.8,466.6 110,466.6 113.8,465.8 117.5,466.4 121.2,465.4 125,465.2 128.8,464.9 132.5,464.6 136.2,465.4 140,465.7 143.8,466.3 147.5,466.7 151.2,467.4 155,467 159,467.9 163,467.1 167,467.9 170.5,466.3 174,466.6 177.5,465.2 181.2,465.7 185,465.2 188.8,465.5 192.5,466.3 196.2,466 200,466.2 203.6,465.6 207.2,465.2 210.8,464.8 214.4,465.7 218,465.3 221.9,466.1 225.7,466.3 229.6,465.6 233.4,466.1 237.3,466.7 241.1,466.6 245,466.2 248.6,466.3 252.1,465.8 255.7,465.9 259.3,465.2 262.9,465.1 266.4,465.9 270,465.5 273.8,466.5 277.5,465.8 281.2,465.6 285,465.6 288.8,465.9 292.5,466.6 296.2,466 300,466.2 303.8,467 307.5,465.5 311.2,465.8 315,466.1 318.8,465.9 322.5,466.7 326.2,466.6 330,466 333.8,466.6 337.5,465.8 341.2,464.5 345,465.3 348.8,465 352.5,464.7 356.2,464.1 360,464.3 363.8,464.7 367.5,465.2 371.2,463.8 375,464.9 378.8,464.4 382.5,464.7 386.2,465.4 390,464.8 393.8,465.7 397.5,465.1 401.2,464.3 405,465.7 408.8,464.4 412.5,464.7 416.2,465.6 420,465 423.6,464.7 427.3,464.6 430.9,465.8 434.5,465.8 438.2,464.7 441.8,464.8 445.5,464.6 449.1,464.3 452.7,464.6 456.4,465.9 460,465 463.6,464.2 467.3,464.4 470.9,464.4 474.5,464.1 478.2,464.9 481.8,465.2 485.5,465.4 489.1,464.9 492.7,465.2 496.4,463.7 500,464.6 503.8,464.2 507.5,465.4 511.2,463.7 515,464 518.8,464.4 522.5,464 526.2,464.4 530,464.3 533.8,463.9 537.5,464.6 541.2,466.2 545,465.8 549.1,464.6 553.2,465.4 557.4,463.6 561.5,463.6 564.9,465.1 568.2,465.1 571.6,465.7 575,466 578.8,465.2 582.5,464.9 586.2,466 590,464.8 593.8,464.6 597.5,465 601.2,465.6 605,465.8 608.8,464.3 612.5,466 616.2,465.3 620,465.3 623.8,465.1 627.5,464.6 631.2,465.1 635,466.1 638.8,464.8 642.5,464.6 646.2,464.6 650,465.2 653.8,464.6 657.5,465 661.2,466.1 665,464.6 668.8,464.8 672.5,466.2 676.2,466.4 680,465.5 683.3,466.5 686.7,465.2 690,465.8 693.8,464.8 697.5,465.2 701.2,463.7 705,463 708.8,463.6 712.5,463.1 716.2,462.8 720,463.9 723.5,463.6 727,464.3 730.5,464.4 734,464 737.5,463.8 741,463.9 745.5,465.1 750,466.2 753.8,466.1 757.5,466.3 761.2,466.8 765,465.7 768.8,466.4 772.5,466.2 776.2,467 780,466.9 783.8,465.7 787.5,467.2 791.2,467 795,465.8 798.8,466 802.5,466.5 805.9,465.6 809.3,465 812.7,465.5 816,466.4 819.4,465.3 822.7,465.5" fill="none" stroke="#bfbf00" stroke-width="2" stroke-linejoin="round" stroke-linecap="square"/>
<g fill="#bfbf00"><circle cx="101.7" cy="467.2" r="2.65"/><circle cx="105.8" cy="466.6" r="2.65"/><circle cx="110" cy="466.6" r="2.65"/><circle cx="113.8" cy="465.8" r="2.65"/><circle cx="117.5" cy="466.4" r="2.65"/><circle cx="121.2" cy="465.4" r="2.65"/><circle cx="125" cy="465.2" r="2.65"/><circle cx="128.8" cy="464.9" r="2.65"/><circle cx="132.5" cy="464.6" r="2.65"/><circle cx="136.2" cy="465.4" r="2.65"/><circle cx="140" cy="465.7" r="2.65"/><circle cx="143.8" cy="466.3" r="2.65"/><circle cx="147.5" cy="466.7" r="2.65"/><circle cx="151.2" cy="467.4" r="2.65"/><circle cx="155" cy="467" r="2.65"/><circle cx="159" cy="467.9" r="2.65"/><circle cx="163" cy="467.1" r="2.65"/><circle cx="167" cy="467.9" r="2.65"/><circle cx="170.5" cy="466.3" r="2.65"/><circle cx="174" cy="466.6" r="2.65"/><circle cx="177.5" cy="465.2" r="2.65"/><circle cx="181.2" cy="465.7" r="2.65"/><circle cx="185" cy="465.2" r="2.65"/><circle cx="188.8" cy="465.5" r="2.65"/><circle cx="192.5" cy="466.3" r="2.65"/><circle cx="196.2" cy="466" r="2.65"/><circle cx="200" cy="466.2" r="2.65"/><circle cx="203.6" cy="465.6" r="2.65"/><circle cx="207.2" cy="465.2" r="2.65"/><circle cx="210.8" cy="464.8" r="2.65"/><circle cx="214.4" cy="465.7" r="2.65"/><circle cx="218" cy="465.3" r="2.65"/><circle cx="221.9" cy="466.1" r="2.65"/><circle cx="225.7" cy="466.3" r="2.65"/><circle cx="229.6" cy="465.6" r="2.65"/><circle cx="233.4" cy="466.1" r="2.65"/><circle cx="237.3" cy="466.7" r="2.65"/><circle cx="241.1" cy="466.6" r="2.65"/><circle cx="245" cy="466.2" r="2.65"/><circle cx="248.6" cy="466.3" r="2.65"/><circle cx="252.1" cy="465.8" r="2.65"/><circle cx="255.7" cy="465.9" r="2.65"/><circle cx="259.3" cy="465.2" r="2.65"/><circle cx="262.9" cy="465.1" r="2.65"/><circle cx="266.4" cy="465.9" r="2.65"/><circle cx="270" cy="465.5" r="2.65"/><circle cx="273.8" cy="466.5" r="2.65"/><circle cx="277.5" cy="465.8" r="2.65"/><circle cx="281.2" cy="465.6" r="2.65"/><circle cx="285" cy="465.6" r="2.65"/><circle cx="288.8" cy="465.9" r="2.65"/><circle cx="292.5" cy="466.6" r="2.65"/><circle cx="296.2" cy="466" r="2.65"/><circle cx="300" cy="466.2" r="2.65"/><circle cx="303.8" cy="467" r="2.65"/><circle cx="307.5" cy="465.5" r="2.65"/><circle cx="311.2" cy="465.8" r="2.65"/><circle cx="315" cy="466.1" r="2.65"/><circle cx="318.8" cy="465.9" r="2.65"/><circle cx="322.5" cy="466.7" r="2.65"/><circle cx="326.2" cy="466.6" r="2.65"/><circle cx="330" cy="466" r="2.65"/><circle cx="333.8" cy="466.6" r="2.65"/><circle cx="337.5" cy="465.8" r="2.65"/><circle cx="341.2" cy="464.5" r="2.65"/><circle cx="345" cy="465.3" r="2.65"/><circle cx="348.8" cy="465" r="2.65"/><circle cx="352.5" cy="464.7" r="2.65"/><circle cx="356.2" cy="464.1" r="2.65"/><circle cx="360" cy="464.3" r="2.65"/><circle cx="363.8" cy="464.7" r="2.65"/><circle cx="367.5" cy="465.2" r="2.65"/><circle cx="371.2" cy="463.8" r="2.65"/><circle cx="375" cy="464.9" r="2.65"/><circle cx="378.8" cy="464.4" r="2.65"/><circle cx="382.5" cy="464.7" r="2.65"/><circle cx="386.2" cy="465.4" r="2.65"/><circle cx="390" cy="464.8" r="2.65"/><circle cx="393.8" cy="465.7" r="2.65"/><circle cx="397.5" cy="465.1" r="2.65"/><circle cx="401.2" cy="464.3" r="2.65"/><circle cx="405" cy="465.7" r="2.65"/><circle cx="408.8" cy="464.4" r="2.65"/><circle cx="412.5" cy="464.7" r="2.65"/><circle cx="416.2" cy="465.6" r="2.65"/><circle cx="420" cy="465" r="2.65"/><circle cx="423.6" cy="464.7" r="2.65"/><circle cx="427.3" cy="464.6" r="2.65"/><circle cx="430.9" cy="465.8" r="2.65"/><circle cx="434.5" cy="465.8" r="2.65"/><circle cx="438.2" cy="464.7" r="2.65"/><circle cx="441.8" cy="464.8" r="2.65"/><circle cx="445.5" cy="464.6" r="2.65"/><circle cx="449.1" cy="464.3" r="2.65"/><circle cx="452.7" cy="464.6" r="2.65"/><circle cx="456.4" cy="465.9" r="2.65"/><circle cx="460" cy="465" r="2.65"/><circle cx="463.6" cy="464.2" r="2.65"/><circle cx="467.3" cy="464.4" r="2.65"/><circle cx="470.9" cy="464.4" r="2.65"/><circle cx="474.5" cy="464.1" r="2.65"/><circle cx="478.2" cy="464.9" r="2.65"/><circle cx="481.8" cy="465.2" r="2.65"/><circle cx="485.5" cy="465.4" r="2.65"/><circle cx="489.1" cy="464.9" r="2.65"/><circle cx="492.7" cy="465.2" r="2.65"/><circle cx="496.4" cy="463.7" r="2.65"/><circle cx="500" cy="464.6" r="2.65"/><circle cx="503.8" cy="464.2" r="2.65"/><circle cx="507.5" cy="465.4" r="2.65"/><circle cx="511.2" cy="463.7" r="2.65"/><circle cx="515" cy="464" r="2.65"/><circle cx="518.8" cy="464.4" r="2.65"/><circle cx="522.5" cy="464" r="2.65"/><circle cx="526.2" cy="464.4" r="2.65"/><circle cx="530" cy="464.3" r="2.65"/><circle cx="533.8" cy="463.9" r="2.65"/><circle cx="537.5" cy="464.6" r="2.65"/><circle cx="541.2" cy="466.2" r="2.65"/><circle cx="545" cy="465.8" r="2.65"/><circle cx="549.1" cy="464.6" r="2.65"/><circle cx="553.2" cy="465.4" r="2.65"/><circle cx="557.4" cy="463.6" r="2.65"/><circle cx="561.5" cy="463.6" r="2.65"/><circle cx="564.9" cy="465.1" r="2.65"/><circle cx="568.2" cy="465.1" r="2.65"/><circle cx="571.6" cy="465.7" r="2.65"/><circle cx="575" cy="466" r="2.65"/><circle cx="578.8" cy="465.2" r="2.65"/><circle cx="582.5" cy="464.9" r="2.65"/><circle cx="586.2" cy="466" r="2.65"/><circle cx="590" cy="464.8" r="2.65"/><circle cx="593.8" cy="464.6" r="2.65"/><circle cx="597.5" cy="465" r="2.65"/><circle cx="601.2" cy="465.6" r="2.65"/><circle cx="605" cy="465.8" r="2.65"/><circle cx="608.8" cy="464.3" r="2.65"/><circle cx="612.5" cy="466" r="2.65"/><circle cx="616.2" cy="465.3" r="2.65"/><circle cx="620" cy="465.3" r="2.65"/><circle cx="623.8" cy="465.1" r="2.65"/><circle cx="627.5" cy="464.6" r="2.65"/><circle cx="631.2" cy="465.1" r="2.65"/><circle cx="635" cy="466.1" r="2.65"/><circle cx="638.8" cy="464.8" r="2.65"/><circle cx="642.5" cy="464.6" r="2.65"/><circle cx="646.2" cy="464.6" r="2.65"/><circle cx="650" cy="465.2" r="2.65"/><circle cx="653.8" cy="464.6" r="2.65"/><circle cx="657.5" cy="465" r="2.65"/><circle cx="661.2" cy="466.1" r="2.65"/><circle cx="665" cy="464.6" r="2.65"/><circle cx="668.8" cy="464.8" r="2.65"/><circle cx="672.5" cy="466.2" r="2.65"/><circle cx="676.2" cy="466.4" r="2.65"/><circle cx="680" cy="465.5" r="2.65"/><circle cx="683.3" cy="466.5" r="2.65"/><circle cx="686.7" cy="465.2" r="2.65"/><circle cx="690" cy="465.8" r="2.65"/><circle cx="693.8" cy="464.8" r="2.65"/><circle cx="697.5" cy="465.2" r="2.65"/><circle cx="701.2" cy="463.7" r="2.65"/><circle cx="705" cy="463" r="2.65"/><circle cx="708.8" cy="463.6" r="2.65"/><circle cx="712.5" cy="463.1" r="2.65"/><circle cx="716.2" cy="462.8" r="2.65"/><circle cx="720" cy="463.9" r="2.65"/><circle cx="723.5" cy="463.6" r="2.65"/><circle cx="727" cy="464.3" r="2.65"/><circle cx="730.5" cy="464.4" r="2.65"/><circle cx="734" cy="464" r="2.65"/><circle cx="737.5" cy="463.8" r="2.65"/><circle cx="741" cy="463.9" r="2.65"/><circle cx="745.5" cy="465.1" r="2.65"/><circle cx="750" cy="466.2" r="2.65"/><circle cx="753.8" cy="466.1" r="2.65"/><circle cx="757.5" cy="466.3" r="2.65"/><circle cx="761.2" cy="466.8" r="2.65"/><circle cx="765" cy="465.7" r="2.65"/><circle cx="768.8" cy="466.4" r="2.65"/><circle cx="772.5" cy="466.2" r="2.65"/><circle cx="776.2" cy="467" r="2.65"/><circle cx="780" cy="466.9" r="2.65"/><circle cx="783.8" cy="465.7" r="2.65"/><circle cx="787.5" cy="467.2" r="2.65"/><circle cx="791.2" cy="467" r="2.65"/><circle cx="795" cy="465.8" r="2.65"/><circle cx="798.8" cy="466" r="2.65"/><circle cx="802.5" cy="466.5" r="2.65"/><circle cx="805.9" cy="465.6" r="2.65"/><circle cx="809.3" cy="465" r="2.65"/><circle cx="812.7" cy="465.5" r="2.65"/><circle cx="816" cy="466.4" r="2.65"/><circle cx="819.4" cy="465.3" r="2.65"/><circle cx="822.7" cy="465.5" r="2.65"/></g>
</g>
<rect x="100.5" y="78.5" width="750.0" height="417.0" fill="none" stroke="#000" stroke-width="1"/>
<path d="M100.50 495.5v-5.2M250.50 495.5v-5.2M400.50 495.5v-5.2M550.50 495.5v-5.2M700.50 495.5v-5.2M850.50 495.5v-5.2M175.50 495.5v-4.2M325.50 495.5v-4.2M475.50 495.5v-4.2M625.50 495.5v-4.2M775.50 495.5v-4.2M100.5 475.50h5.2M850.5 475.50h-5.2M100.5 407.50h5.2M850.5 407.50h-5.2M100.5 339.50h5.2M850.5 339.50h-5.2M100.5 271.50h5.2M850.5 271.50h-5.2M100.5 203.50h5.2M850.5 203.50h-5.2M100.5 136.50h5.2M850.5 136.50h-5.2M261.50 78.5v5.2M535.50 78.5v5.2M809.50 78.5v5.2M123.50 78.5v4.3M397.50 78.5v4.3M671.50 78.5v4.3" stroke="#000" stroke-width="0.9" fill="none"/>
<g font-family="DejaVu Sans, Liberation Sans, sans-serif" fill="#000">
<text transform="translate(99.80 513.50) scale(1 1.07)" text-anchor="middle" font-size="16.2">59000</text>
<text transform="translate(249.80 513.50) scale(1 1.07)" text-anchor="middle" font-size="16.2">59200</text>
<text transform="translate(399.80 513.50) scale(1 1.07)" text-anchor="middle" font-size="16.2">59400</text>
<text transform="translate(549.80 513.50) scale(1 1.07)" text-anchor="middle" font-size="16.2">59600</text>
<text transform="translate(699.80 513.50) scale(1 1.07)" text-anchor="middle" font-size="16.2">59800</text>
<text transform="translate(849.80 513.50) scale(1 1.07)" text-anchor="middle" font-size="16.2">60000</text>
<text transform="translate(94.60 481.80) scale(1 1.08)" text-anchor="end" font-size="16.2">0</text>
<text transform="translate(94.60 413.98) scale(1 1.08)" text-anchor="end" font-size="16.2">200</text>
<text transform="translate(94.60 346.16) scale(1 1.08)" text-anchor="end" font-size="16.2">400</text>
<text transform="translate(94.60 278.34) scale(1 1.08)" text-anchor="end" font-size="16.2">600</text>
<text transform="translate(94.60 210.52) scale(1 1.08)" text-anchor="end" font-size="16.2">800</text>
<text transform="translate(94.60 142.70) scale(1 1.08)" text-anchor="end" font-size="16.2">1000</text>
<text transform="translate(260.65 69.60) scale(1 1.09)" text-anchor="middle" font-size="16.2">2021</text>
<text transform="translate(534.40 69.60) scale(1 1.09)" text-anchor="middle" font-size="16.2">2022</text>
<text transform="translate(808.15 69.60) scale(1 1.09)" text-anchor="middle" font-size="16.2">2023</text>
<text transform="translate(474.45 27.55) scale(0.934 1)" text-anchor="middle" font-size="22">12.68-01</text>
<text transform="translate(475.50 547.00)" text-anchor="middle" font-size="19.3">MJD [day]</text>
<text transform="translate(34.10 284.35) rotate(-90)" text-anchor="middle" font-size="19.45">Flux density [Jy]</text>
</g>
<rect x="894.8" y="81.6" width="85.2" height="258.0" rx="2.5" fill="#fff" stroke="#d6d6d6" stroke-width="1.1"/>
<g font-family="DejaVu Sans, Liberation Sans, sans-serif">
<text x="903.4" y="98.7" font-size="13.8"><tspan font-style="oblique">V</tspan><tspan font-size="9.7" dy="2.3">lsr</tspan><tspan dy="-2.3"> (km/s)</tspan></text>
<path d="M899.1 117.3h29.7" stroke="#000000" stroke-width="1.9"/><circle cx="914.4" cy="117.3" r="4.6" fill="#000000"/>
<text transform="translate(935.60 121.70) scale(0.977 1.02)" font-size="13.8">51.09</text>
<path d="M899.1 138.3h29.7" stroke="#0000ff" stroke-width="1.9"/><circle cx="914.4" cy="138.3" r="4.6" fill="#0000ff"/>
<text transform="translate(935.60 142.70) scale(0.977 1.02)" font-size="13.8">52.12</text>
<path d="M899.1 159.3h29.7" stroke="#ff0000" stroke-width="1.9"/><circle cx="914.4" cy="159.3" r="4.6" fill="#ff0000"/>
<text transform="translate(935.60 163.70) scale(0.977 1.02)" font-size="13.8">54.98</text>
<path d="M899.1 180.3h29.7" stroke="#008000" stroke-width="1.9"/><circle cx="914.4" cy="180.3" r="4.6" fill="#008000"/>
<text transform="translate(935.60 184.70) scale(0.977 1.02)" font-size="13.8">55.44</text>
<path d="M899.1 201.3h29.7" stroke="#ffd700" stroke-width="1.9"/><circle cx="914.4" cy="201.3" r="4.6" fill="#ffd700"/>
<text transform="translate(935.60 205.70) scale(0.977 1.02)" font-size="13.8">57.25</text>
<path d="M899.1 222.3h29.7" stroke="#00bfbf" stroke-width="1.9"/><circle cx="914.4" cy="222.3" r="4.6" fill="#00bfbf"/>
<text transform="translate(935.60 226.70) scale(0.977 1.02)" font-size="13.8">57.57</text>
<path d="M899.1 243.3h29.7" stroke="#bf00bf" stroke-width="1.9"/><circle cx="914.4" cy="243.3" r="4.6" fill="#bf00bf"/>
<text transform="translate(935.60 247.70) scale(0.977 1.02)" font-size="13.8">58.48</text>
<path d="M899.1 264.3h29.7" stroke="#ffa500" stroke-width="1.9"/><circle cx="914.4" cy="264.3" r="4.6" fill="#ffa500"/>
<text transform="translate(935.60 268.70) scale(0.977 1.02)" font-size="13.8">59.05</text>
<path d="M899.1 285.3h29.7" stroke="#ffb6c1" stroke-width="1.9"/><circle cx="914.4" cy="285.3" r="4.6" fill="#ffb6c1"/>
<text transform="translate(935.60 289.70) scale(0.977 1.02)" font-size="13.8">59.84</text>
<path d="M899.1 306.3h29.7" stroke="#bfbf00" stroke-width="1.9"/><circle cx="914.4" cy="306.3" r="4.6" fill="#bfbf00"/>
<text transform="translate(935.60 310.70) scale(0.977 1.02)" font-size="13.8">60.65</text>
<path d="M908.75 322.55l11.7 11.7m0 -11.7l-11.7 11.7" stroke="#808080" stroke-width="1.6"/>
<text transform="translate(936.30 331.70) scale(0.977 1.02)" font-size="13.8">3 <tspan font-style="oblique">σ</tspan></text>
</g>
</svg></body></html>
